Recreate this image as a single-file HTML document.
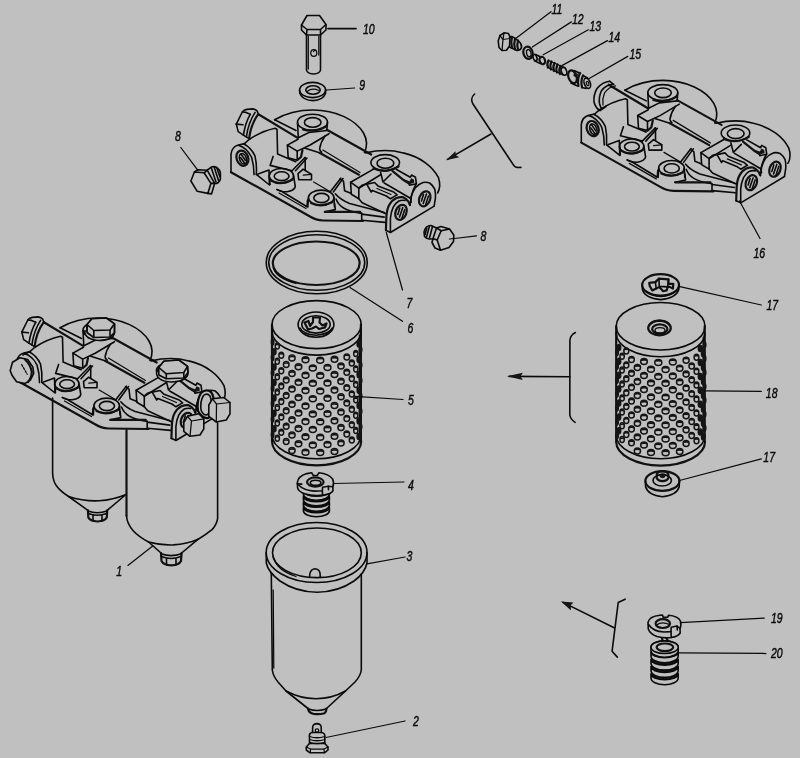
<!DOCTYPE html>
<html><head><meta charset="utf-8"><title>Filter assembly exploded view</title>
<style>
html,body{margin:0;padding:0;background:#c0c0c0;}
body{width:800px;height:758px;overflow:hidden;font-family:"Liberation Sans",sans-serif;}
svg{display:block}
.l{fill:none;stroke:#0a0a0a;stroke-width:1.6;stroke-linecap:round;stroke-linejoin:round}
.t{fill:none;stroke:#0a0a0a;stroke-width:1.25;stroke-linecap:round;stroke-linejoin:round}
.k{fill:none;stroke:#111;stroke-width:2.2;stroke-linecap:round;stroke-linejoin:round}
.f{fill:#c0c0c0;stroke:#0a0a0a;stroke-width:1.6;stroke-linejoin:round}
.b{fill:#151515;stroke:none}
text{font-family:"Liberation Sans",sans-serif;font-style:italic;font-size:14.2px;fill:#0a0a0a;stroke:#0a0a0a;stroke-width:0.45}
</style></head><body>
<svg width="800" height="758" viewBox="0 0 800 758">
<rect width="800" height="758" fill="#c0c0c0"/>
<!-- 10_bolt.svg -->
<g class="l">
<!-- bolt 10 -->
<path d="M301.5,25 L307,15.5 L319.5,15.5 L326,24.5 L326,30 L320.5,35 L306.5,35 L301.5,30 Z"/>
<path d="M301.5,25 L307,29.5 L320.5,29.5 L326,24.5 M307,29.5 L306.5,35 M320.5,29.5 L320.5,35"/>
<path d="M306.5,35 L306.5,70 Q307,73.5 313.5,74 Q320,73.5 320.5,70 L320.5,35"/>
<path class="t" d="M308.3,36 L308.3,69 M318.8,36 L318.8,55"/>
<ellipse class="t" cx="313.8" cy="53" rx="3" ry="3.4"/>
<path class="t" d="M313.5,51.5 L315,50"/>
<!-- washer 9 -->
<ellipse cx="312.6" cy="90" rx="13" ry="7.6"/>
<path d="M299.6,90 L299.8,93.5 Q303,100.5 313,100.6 Q323,100.3 325.5,93.5 L325.6,90"/>
<ellipse cx="313" cy="90" rx="7.2" ry="4.2"/>
<path class="t" d="M307,91.5 Q312,87.5 319,90.5"/>
</g>
<g class="t">
<path d="M328,28.6 L356,28.6" style="stroke-width:1.8"/>
<path d="M326.5,90 L354.5,88"/>
</g>
<!-- 20_cover7.svg -->
<g id="cover7">
<g class="l" id="cbody">
<!-- tube top edge from plug to boss1 -->
<path class="k" d="M258.4,114.3 L297.2,137.6"/>
<!-- flange 1 arc -->
<path d="M274.6,119.8 L296,130.5"/>
<path d="M274.6,119.8 C286,113 300,110 313,110 C336,110 356,120 363.5,133 C367.5,140 367,147 364.5,152.5"/>
<!-- wall -->
<path d="M244.5,143.6 L249,139.5 Q262,131 275,128.3 L277,129.3 L277.6,154.1 L295.7,161.7"/>
<!-- left ear -->
<path d="M244.5,143.6 L238.5,145 Q232,146.5 231,154 L231,172.2"/>
<path d="M243.5,143.8 Q251,147.5 255,156 Q257,165 256.3,174.4"/>
<path d="M238.5,145.2 Q247,148 251.5,157 Q254,165 254,174.6"/>
<ellipse class="k" cx="242.4" cy="158.2" rx="5.8" ry="7.8" transform="rotate(-20 242.4 158.2)"/>
<ellipse cx="243" cy="158.8" rx="3.4" ry="5.4" transform="rotate(-20 243 158.8)"/>
<!-- pocket triangle -->
<path d="M256.3,174.4 L269.5,185 L269,170 L258,174"/>
<!-- outer bottom edge -->
<path class="k" d="M231,172.2 L310,216.5 Q316,220.3 323,220.5 L363,221"/>
<!-- boss 2 -->
<ellipse cx="281.4" cy="175.9" rx="12.2" ry="7.4"/>
<ellipse cx="281.6" cy="176.2" rx="7.4" ry="4.4"/>
<path d="M269.2,176.5 L270,184.5 M293.6,176 L295.3,186.5 Q294.5,190.5 287,191.8 Q280,192 276.9,189.5"/>
<path class="k" d="M271,180.5 Q280,186 292.5,179.5"/>
<!-- step line -->
<path d="M276.9,189.5 L281.5,191.3 L307,206.8 L307.5,200"/>
<path class="t" d="M279,193 L306,208.5"/>
<!-- small wall near boss 2 -->
<path d="M273.1,156.4 L270.1,165.4 L292,170.7"/>
<path d="M292,170.7 L305,157.5 M295.5,170.7 L307,158"/>
<!-- rib 1 -->
<path d="M287.4,145.1 L297.2,151.1 L297.2,160.2 L288.2,157.9 Z"/>
<path d="M287.4,145.1 L298,139.3 M297.2,151.1 L309.7,145.2 L329,133.7"/>
<path d="M305.2,157.6 L305.2,170"/>
<path d="M304.5,148 L319.5,152.8"/>
<path class="k" d="M297.2,160.2 L301,157 L302.5,150"/>
<!-- boss 1 -->
<ellipse cx="312.5" cy="122.2" rx="15" ry="8"/>
<ellipse cx="312.7" cy="122.4" rx="8.3" ry="4.8"/>
<path d="M297.5,122.5 L298.3,137.8 M327.5,122.5 L326.8,130.5"/>
<path class="k" d="M303,129.5 Q314,133 326,126.5"/>
<path d="M298.3,137.8 L309,132.5 L326.8,130.5"/>
<!-- small wedge -->
<path d="M298,173.7 L303.2,169.2 L311.5,174.4 L311.5,179.7 L298.7,179.7 Z"/>
<path class="t" d="M303.3,175.2 L311.5,174.4"/>
<!-- boss 3 -->
<ellipse cx="321.2" cy="197.7" rx="12.8" ry="7.6"/>
<ellipse cx="321.4" cy="198" rx="7.6" ry="4.6"/>
<path d="M308.4,198 L307.8,207 M334,198 L334.5,207"/>
<path class="k" d="M311,203 Q321,208 332.5,202"/>
<!-- lines from wedge to boss3 -->
<path class="t" d="M313.7,182 L330.3,191.7"/>
<path d="M330.3,191.7 L340.8,178.2 M333.3,192 L343,178.5"/>
<!-- tube 1 : upper cylinder -->
<path class="k" d="M326.8,129.7 L371.2,154.5"/>
<path d="M325.1,135.9 Q320.5,142.5 319.6,149 Q320,151.2 321.7,152.2"/>
<path class="t" d="M322.9,150 L360,172.5"/>
<path class="k" d="M319.5,152.8 L358.9,174.7"/>
<!-- flange 2 arc -->
<path d="M365.6,152.9 C378,150 392,149.8 403.2,152.9 C421,157 433,167 438.5,177.7 C440.5,184 440,189 437.6,193"/>
<!-- boss 4 -->
<ellipse cx="385.2" cy="162.6" rx="14.3" ry="8"/>
<ellipse cx="385.4" cy="163.2" rx="8.4" ry="5"/>
<path class="k" d="M373.5,168.5 Q386,174 398.5,166.5"/>
<path d="M380.6,172.4 L383,182 L391,174"/>
<!-- rib 2 -->
<path d="M350.6,182.2 L358.8,188.2 L358.8,198.7 L351.3,194.2 Z"/>
<path d="M350.6,182.2 L373.1,169.4 M358.8,188.2 L380.6,174.7"/>
<!-- arrow casting lower -->
<path d="M366.7,184.2 L374.6,182.5 L378,185.9 L393.7,192 L397.1,194.9 L390.4,198.8 L386.4,196 L372.4,190.4 L371.2,192 Z"/>
<path class="t" d="M377,188.5 L391,194.5"/>
<!-- arrow casting upper -->
<path class="k" d="M392.6,171.2 L403.9,180.3 L409.2,183.6"/>
<path d="M396.5,169.5 L410.3,177.3 L411.5,175 L415.5,177.3 L416.4,183.8 L409.5,185.3 L409.2,183.6"/>
<path class="b" d="M403.5,179 L409.5,181.2 L411.2,178.2 L414,179.5 L414.3,182.8 L409.3,184.2 Z"/>
<path d="M384.2,183 L411.2,198.8"/>
<path d="M416.2,183.6 Q412.5,190.5 410.6,198.2 L411.2,202.2"/>
<!-- end plate -->
<path class="k" d="M385.9,230.3 L386.4,216.2 Q387,209 389.2,205 Q392,200 396,198.2 Q399.5,196.8 402.7,197.1 Q406,198.5 408.4,201.6 L410,205"/>
<path d="M390.4,232 L390.4,218.5 Q391,212 393.2,207.2 Q395.5,203 398.8,201 Q402,199.8 405,200.5"/>
<path d="M410,205 L411.2,197.1 Q412.5,192 415.1,188.1 Q418.5,184 423,182.5 Q426.5,181.8 429.7,183 Q433,185.5 434.8,189.2 Q435.8,193.5 435.4,198.2 L434.2,205.8"/>
<path d="M385.9,230.3 L390.4,232.5 L434.2,206.1"/>
<ellipse class="k" cx="401" cy="212.3" rx="5.4" ry="7.8" transform="rotate(22 401 212.3)"/>
<ellipse class="k" cx="424.7" cy="198.8" rx="5.4" ry="7.8" transform="rotate(22 424.7 198.8)"/>
<path d="M399.8,208 L397.8,214.5 M402.8,207.5 L399.5,217 M404.8,209.5 L402,218 M423.5,194.5 L421.5,201 M426.5,194 L423.2,203.5 M428.5,196 L425.7,204.5"/>
<!-- lines between rib2 and tube ends -->
<path d="M358.8,198.7 L362.2,202.7 L385.3,213.4"/>
<path d="M358.8,188.2 Q362,184 366.7,184.2"/>
<!-- lower flange curves left of rib 2 -->
<path d="M335.3,193.8 Q340,199.5 349.6,203.6 L384.2,212.6"/>
<path d="M336,199 Q338,204.5 343.6,208 Q350,211.8 361.7,213.4"/>
<path d="M334.6,203.6 L335.3,209.6 L324.8,211.9"/>
<path class="k" d="M324.8,211.9 L360.2,211.9"/><path d="M361.7,213.4 L361.7,220.2 M361.7,214.1 L384.2,217.1"/>
<path d="M361.7,220.2 L385,222.4"/>
<path d="M340.1,179 L343.5,181.2 L344.6,190.8 L351.4,193.6"/>
<path d="M241,154 L245.5,160.5 M240.5,157.5 L244.5,163"/>
</g>
<g class="l" id="cplug">
<!-- plug head top-left -->
<path d="M236.3,124.1 L242.3,112 Q244,110 246.8,109.4 L252.8,108.9 Q256,109.5 257.3,111.3 L258.5,114.7"/>
<path d="M236.3,124.1 L238.2,131.6 L243.8,135.3 L249.8,139.1"/>
<path d="M242.3,112 L246.1,112.4 L250.2,114.3 M236.3,124.1 L243,124.8"/>
<path d="M250.2,114.3 Q245.3,122.6 243.4,135.3"/>
<path d="M255.1,112.4 Q248.3,122.6 246.4,136.8"/>
<path class="k" d="M258.1,114.3 Q250.9,124.1 249.1,138.3"/>
</g>
</g>
<!-- 25_assembly1.svg -->
<g class="l">
<!-- left bowl -->
<path d="M52.6,398 L52.6,473 Q53,481 56.2,485.5 Q60,491 68.6,496.5 L87.9,510.3"/>
<path d="M68.6,496.5 Q84,501.5 99,500.8 Q113,500 126,494.5 L107.2,510.3"/>
<path class="k" d="M87.9,510.3 L88.3,517.5 Q90,521 97.5,521.5 Q105,521 106.8,517.5 L107.2,510.3"/>
<path d="M88.3,513.5 Q97,517 106.8,513.5 M93,515.5 L93,521 M102,515.5 L102,521 M88,511 Q97,514.5 107,511"/>
<!-- right bowl -->
<path class="k" d="M126.5,430 L126.5,515.8"/>
<path d="M126.5,515.8 Q127,524 133.4,531 Q139,537 148.6,542 L161,553"/>
<path d="M217.6,423 L217.6,518.6 Q216.5,525 212,529.6 Q206,534.5 198.2,539.2 L181.6,553"/>
<path d="M148.6,542 Q160,545.3 173.4,544.9 Q187,544 198.2,539.2"/>
<path class="k" d="M161,553 L161.5,561 Q163.5,565 171.3,565.4 Q179,565 181,561 L181.6,553"/>
<path d="M161.5,556.5 Q171,560.5 181,556.5 M166.5,558.7 L166.5,565 M176,558.7 L176,565 M161.2,553.8 Q171,557.5 181.4,553.8"/>
</g>
<g transform="translate(-214.5,208)"><g>
<g class="l">
<!-- tube top edge from plug to boss1 -->
<path class="k" d="M258.4,114.3 L297.2,137.6"/>
<!-- flange 1 arc -->
<path d="M274.6,119.8 L296,130.5"/>
<path d="M274.6,119.8 C286,113 300,110 313,110 C336,110 356,120 363.5,133 C367.5,140 367,147 364.5,152.5"/>
<!-- wall -->
<path d="M244.5,143.6 L249,139.5 Q262,131 275,128.3 L277,129.3 L277.6,154.1 L295.7,161.7"/>
<!-- left ear -->
<path d="M244.5,143.6 L238.5,145 Q232,146.5 231,154 L231,172.2"/>
<path d="M243.5,143.8 Q251,147.5 255,156 Q257,165 256.3,174.4"/>
<path d="M238.5,145.2 Q247,148 251.5,157 Q254,165 254,174.6"/>
<ellipse class="k" cx="242.4" cy="158.2" rx="5.8" ry="7.8" transform="rotate(-20 242.4 158.2)"/>
<ellipse cx="243" cy="158.8" rx="3.4" ry="5.4" transform="rotate(-20 243 158.8)"/>
<!-- pocket triangle -->
<path d="M256.3,174.4 L269.5,185 L269,170 L258,174"/>
<!-- outer bottom edge -->
<path class="k" d="M231,172.2 L310,216.5 Q316,220.3 323,220.5 L363,221"/>
<!-- boss 2 -->
<ellipse cx="281.4" cy="175.9" rx="12.2" ry="7.4"/>
<ellipse cx="281.6" cy="176.2" rx="7.4" ry="4.4"/>
<path d="M269.2,176.5 L270,184.5 M293.6,176 L295.3,186.5 Q294.5,190.5 287,191.8 Q280,192 276.9,189.5"/>
<path class="k" d="M271,180.5 Q280,186 292.5,179.5"/>
<!-- step line -->
<path d="M276.9,189.5 L281.5,191.3 L307,206.8 L307.5,200"/>
<path class="t" d="M279,193 L306,208.5"/>
<!-- small wall near boss 2 -->
<path d="M273.1,156.4 L270.1,165.4 L292,170.7"/>
<path d="M292,170.7 L305,157.5 M295.5,170.7 L307,158"/>
<!-- rib 1 -->
<path d="M287.4,145.1 L297.2,151.1 L297.2,160.2 L288.2,157.9 Z"/>
<path d="M287.4,145.1 L298,139.3 M297.2,151.1 L309.7,145.2 L329,133.7"/>
<path d="M305.2,157.6 L305.2,170"/>
<path d="M304.5,148 L319.5,152.8"/>
<path class="k" d="M297.2,160.2 L301,157 L302.5,150"/>
<!-- boss 1 -->
<ellipse cx="312.5" cy="122.2" rx="15" ry="8"/>
<ellipse cx="312.7" cy="122.4" rx="8.3" ry="4.8"/>
<path d="M297.5,122.5 L298.3,137.8 M327.5,122.5 L326.8,130.5"/>
<path class="k" d="M303,129.5 Q314,133 326,126.5"/>
<path d="M298.3,137.8 L309,132.5 L326.8,130.5"/>
<!-- small wedge -->
<path d="M298,173.7 L303.2,169.2 L311.5,174.4 L311.5,179.7 L298.7,179.7 Z"/>
<path class="t" d="M303.3,175.2 L311.5,174.4"/>
<!-- boss 3 -->
<ellipse cx="321.2" cy="197.7" rx="12.8" ry="7.6"/>
<ellipse cx="321.4" cy="198" rx="7.6" ry="4.6"/>
<path d="M308.4,198 L307.8,207 M334,198 L334.5,207"/>
<path class="k" d="M311,203 Q321,208 332.5,202"/>
<!-- lines from wedge to boss3 -->
<path class="t" d="M313.7,182 L330.3,191.7"/>
<path d="M330.3,191.7 L340.8,178.2 M333.3,192 L343,178.5"/>
<!-- tube 1 : upper cylinder -->
<path class="k" d="M326.8,129.7 L371.2,154.5"/>
<path d="M325.1,135.9 Q320.5,142.5 319.6,149 Q320,151.2 321.7,152.2"/>
<path class="t" d="M322.9,150 L360,172.5"/>
<path class="k" d="M319.5,152.8 L358.9,174.7"/>
<!-- flange 2 arc -->
<path d="M365.6,152.9 C378,150 392,149.8 403.2,152.9 C421,157 433,167 438.5,177.7 C440.5,184 440,189 437.6,193"/>
<!-- boss 4 -->
<ellipse cx="385.2" cy="162.6" rx="14.3" ry="8"/>
<ellipse cx="385.4" cy="163.2" rx="8.4" ry="5"/>
<path class="k" d="M373.5,168.5 Q386,174 398.5,166.5"/>
<path d="M380.6,172.4 L383,182 L391,174"/>
<!-- rib 2 -->
<path d="M350.6,182.2 L358.8,188.2 L358.8,198.7 L351.3,194.2 Z"/>
<path d="M350.6,182.2 L373.1,169.4 M358.8,188.2 L380.6,174.7"/>
<!-- arrow casting lower -->
<path d="M366.7,184.2 L374.6,182.5 L378,185.9 L393.7,192 L397.1,194.9 L390.4,198.8 L386.4,196 L372.4,190.4 L371.2,192 Z"/>
<path class="t" d="M377,188.5 L391,194.5"/>
<!-- arrow casting upper -->
<path class="k" d="M392.6,171.2 L403.9,180.3 L409.2,183.6"/>
<path d="M396.5,169.5 L410.3,177.3 L411.5,175 L415.5,177.3 L416.4,183.8 L409.5,185.3 L409.2,183.6"/>
<path class="b" d="M403.5,179 L409.5,181.2 L411.2,178.2 L414,179.5 L414.3,182.8 L409.3,184.2 Z"/>
<path d="M384.2,183 L411.2,198.8"/>
<path d="M416.2,183.6 Q412.5,190.5 410.6,198.2 L411.2,202.2"/>
<!-- end plate -->
<path class="k" d="M385.9,230.3 L386.4,216.2 Q387,209 389.2,205 Q392,200 396,198.2 Q399.5,196.8 402.7,197.1 Q406,198.5 408.4,201.6 L410,205"/>
<path d="M390.4,232 L390.4,218.5 Q391,212 393.2,207.2 Q395.5,203 398.8,201 Q402,199.8 405,200.5"/>
<path d="M410,205 L411.2,197.1 Q412.5,192 415.1,188.1 Q418.5,184 423,182.5 Q426.5,181.8 429.7,183 Q433,185.5 434.8,189.2 Q435.8,193.5 435.4,198.2 L434.2,205.8"/>
<path d="M385.9,230.3 L390.4,232.5 L434.2,206.1"/>
<ellipse class="k" cx="401" cy="212.3" rx="5.4" ry="7.8" transform="rotate(22 401 212.3)"/>
<ellipse class="k" cx="424.7" cy="198.8" rx="5.4" ry="7.8" transform="rotate(22 424.7 198.8)"/>
<path d="M399.8,208 L397.8,214.5 M402.8,207.5 L399.5,217 M404.8,209.5 L402,218 M423.5,194.5 L421.5,201 M426.5,194 L423.2,203.5 M428.5,196 L425.7,204.5"/>
<!-- lines between rib2 and tube ends -->
<path d="M358.8,198.7 L362.2,202.7 L385.3,213.4"/>
<path d="M358.8,188.2 Q362,184 366.7,184.2"/>
<!-- lower flange curves left of rib 2 -->
<path d="M335.3,193.8 Q340,199.5 349.6,203.6 L384.2,212.6"/>
<path d="M336,199 Q338,204.5 343.6,208 Q350,211.8 361.7,213.4"/>
<path d="M334.6,203.6 L335.3,209.6 L324.8,211.9"/>
<path class="k" d="M324.8,211.9 L360.2,211.9"/><path d="M361.7,213.4 L361.7,220.2 M361.7,214.1 L384.2,217.1"/>
<path d="M361.7,220.2 L385,222.4"/>
<path d="M340.1,179 L343.5,181.2 L344.6,190.8 L351.4,193.6"/>
<path d="M241,154 L245.5,160.5 M240.5,157.5 L244.5,163"/>
</g>
<g class="l">
<!-- plug head top-left -->
<path d="M236.3,124.1 L242.3,112 Q244,110 246.8,109.4 L252.8,108.9 Q256,109.5 257.3,111.3 L258.5,114.7"/>
<path d="M236.3,124.1 L238.2,131.6 L243.8,135.3 L249.8,139.1"/>
<path d="M242.3,112 L246.1,112.4 L250.2,114.3 M236.3,124.1 L243,124.8"/>
<path d="M250.2,114.3 Q245.3,122.6 243.4,135.3"/>
<path d="M255.1,112.4 Q248.3,122.6 246.4,136.8"/>
<path class="k" d="M258.1,114.3 Q250.9,124.1 249.1,138.3"/>
</g>
</g></g>
<g class="f">
<!-- bolt on boss 1 -->
<path d="M84.5,331 Q85,339.5 99,340.5 Q113,340 114.5,333 L114.5,323.8 L106.3,318 L92,318.8 L87,324.5 L87,331 Z"/>
<path d="M87,324.5 L92,318.8 L106.3,318 L114.5,323.8 L110,330 L93.8,330.5 Z"/>
<path d="M87,324.5 L87,332.5 L93.8,337.5 L110,337 L114.5,332.5 L114.5,323.8" fill="none"/>
<path d="M93.8,330.5 L93.8,337.5 M110,330 L110,337" fill="none"/>
<!-- bolt on boss 4 -->
<path d="M156.5,373 Q157,381 171,382 Q186,381.5 188,374 L187.5,366.3 L178.8,360 L163.8,361.3 L158.8,367.5 Z"/>
<path d="M158.8,367.5 L163.8,361.3 L178.8,360 L187.5,366.3 L183.8,372.5 L166.3,373.8 Z"/>
<path d="M158.8,367.5 L158.8,375 L166.3,378.8 L183.8,378 L188,372.5 L187.5,366.3" fill="none"/>
<path d="M166.3,373.8 L166.3,378.8 M183.8,372.5 L183.8,378" fill="none"/>
<!-- ear plug -->
<ellipse cx="28.2" cy="366.2" rx="7.3" ry="9.4" transform="rotate(-20 28.2 366.2)" stroke="none"/>
<path d="M10.2,370.6 L12.5,362.3 L19.9,357.7 L27.7,359.5 L32.8,366.9 L33.7,373.4 L30.5,379.9 L24.9,383.6 L16.6,381.7 L12,375.2 Z"/>
<path class="k" d="M25,359.5 Q30.5,364.5 31.8,372 Q31.5,378 28,382" fill="none"/>
<path class="t" d="M21.7,364.6 L27.2,374.3" fill="none" stroke-dasharray="2 1.5"/>
<path d="M22.2,355.4 L30,351.6" fill="none"/>
<!-- right-end washers + plugs -->
<path style="stroke-width:2.2" d="M198,411 Q196.5,400 201,393 Q206,388.5 211,392 Q215,397 214,408 Q212.5,416 208,418 Q202,418.5 198,411 Z"/>
<path d="M201,410 Q200,401 203.5,395.5 Q207,392.5 210,396 Q212,401 211,408 Q209.5,414 206.5,415 Q203,415 201,410 Z" fill="none"/>
<path d="M208.8,405 L212.5,398.8 L223.8,397.5 L230,402.5 L230,413.8 L226.3,420 L216.3,422 L208.8,416.3 Z"/>
<path class="t" d="M212.5,398.8 L216.5,404 L216.3,422 M216.5,404 L230,402.5" fill="none"/>
<path d="M183.8,422.5 L187.5,416.3 L198.8,413.8 L203.8,418.8 L203.8,428.8 L200,435 L190,436.3 L183.8,431.3 Z"/>
<path class="t" d="M187.5,416.3 L191.5,421 L190,436.3 M191.5,421 L203.8,418.8" fill="none"/>
</g>
<g class="t"><path d="M127.9,565.4 L152.7,546"/></g>
<!-- 26_cover16.svg -->
<g transform="translate(350.3,-29.6)"><g class="l">
<!-- tube top edge from plug to boss1 -->
<path class="k" d="M258.4,114.3 L297.2,137.6"/>
<!-- flange 1 arc -->
<path d="M274.6,119.8 L296,130.5"/>
<path d="M274.6,119.8 C286,113 300,110 313,110 C336,110 356,120 363.5,133 C367.5,140 367,147 364.5,152.5"/>
<!-- wall -->
<path d="M244.5,143.6 L249,139.5 Q262,131 275,128.3 L277,129.3 L277.6,154.1 L295.7,161.7"/>
<!-- left ear -->
<path d="M244.5,143.6 L238.5,145 Q232,146.5 231,154 L231,172.2"/>
<path d="M243.5,143.8 Q251,147.5 255,156 Q257,165 256.3,174.4"/>
<path d="M238.5,145.2 Q247,148 251.5,157 Q254,165 254,174.6"/>
<ellipse class="k" cx="242.4" cy="158.2" rx="5.8" ry="7.8" transform="rotate(-20 242.4 158.2)"/>
<ellipse cx="243" cy="158.8" rx="3.4" ry="5.4" transform="rotate(-20 243 158.8)"/>
<!-- pocket triangle -->
<path d="M256.3,174.4 L269.5,185 L269,170 L258,174"/>
<!-- outer bottom edge -->
<path class="k" d="M231,172.2 L310,216.5 Q316,220.3 323,220.5 L363,221"/>
<!-- boss 2 -->
<ellipse cx="281.4" cy="175.9" rx="12.2" ry="7.4"/>
<ellipse cx="281.6" cy="176.2" rx="7.4" ry="4.4"/>
<path d="M269.2,176.5 L270,184.5 M293.6,176 L295.3,186.5 Q294.5,190.5 287,191.8 Q280,192 276.9,189.5"/>
<path class="k" d="M271,180.5 Q280,186 292.5,179.5"/>
<!-- step line -->
<path d="M276.9,189.5 L281.5,191.3 L307,206.8 L307.5,200"/>
<path class="t" d="M279,193 L306,208.5"/>
<!-- small wall near boss 2 -->
<path d="M273.1,156.4 L270.1,165.4 L292,170.7"/>
<path d="M292,170.7 L305,157.5 M295.5,170.7 L307,158"/>
<!-- rib 1 -->
<path d="M287.4,145.1 L297.2,151.1 L297.2,160.2 L288.2,157.9 Z"/>
<path d="M287.4,145.1 L298,139.3 M297.2,151.1 L309.7,145.2 L329,133.7"/>
<path d="M305.2,157.6 L305.2,170"/>
<path d="M304.5,148 L319.5,152.8"/>
<path class="k" d="M297.2,160.2 L301,157 L302.5,150"/>
<!-- boss 1 -->
<ellipse cx="312.5" cy="122.2" rx="15" ry="8"/>
<ellipse cx="312.7" cy="122.4" rx="8.3" ry="4.8"/>
<path d="M297.5,122.5 L298.3,137.8 M327.5,122.5 L326.8,130.5"/>
<path class="k" d="M303,129.5 Q314,133 326,126.5"/>
<path d="M298.3,137.8 L309,132.5 L326.8,130.5"/>
<!-- small wedge -->
<path d="M298,173.7 L303.2,169.2 L311.5,174.4 L311.5,179.7 L298.7,179.7 Z"/>
<path class="t" d="M303.3,175.2 L311.5,174.4"/>
<!-- boss 3 -->
<ellipse cx="321.2" cy="197.7" rx="12.8" ry="7.6"/>
<ellipse cx="321.4" cy="198" rx="7.6" ry="4.6"/>
<path d="M308.4,198 L307.8,207 M334,198 L334.5,207"/>
<path class="k" d="M311,203 Q321,208 332.5,202"/>
<!-- lines from wedge to boss3 -->
<path class="t" d="M313.7,182 L330.3,191.7"/>
<path d="M330.3,191.7 L340.8,178.2 M333.3,192 L343,178.5"/>
<!-- tube 1 : upper cylinder -->
<path class="k" d="M326.8,129.7 L371.2,154.5"/>
<path d="M325.1,135.9 Q320.5,142.5 319.6,149 Q320,151.2 321.7,152.2"/>
<path class="t" d="M322.9,150 L360,172.5"/>
<path class="k" d="M319.5,152.8 L358.9,174.7"/>
<!-- flange 2 arc -->
<path d="M365.6,152.9 C378,150 392,149.8 403.2,152.9 C421,157 433,167 438.5,177.7 C440.5,184 440,189 437.6,193"/>
<!-- boss 4 -->
<ellipse cx="385.2" cy="162.6" rx="14.3" ry="8"/>
<ellipse cx="385.4" cy="163.2" rx="8.4" ry="5"/>
<path class="k" d="M373.5,168.5 Q386,174 398.5,166.5"/>
<path d="M380.6,172.4 L383,182 L391,174"/>
<!-- rib 2 -->
<path d="M350.6,182.2 L358.8,188.2 L358.8,198.7 L351.3,194.2 Z"/>
<path d="M350.6,182.2 L373.1,169.4 M358.8,188.2 L380.6,174.7"/>
<!-- arrow casting lower -->
<path d="M366.7,184.2 L374.6,182.5 L378,185.9 L393.7,192 L397.1,194.9 L390.4,198.8 L386.4,196 L372.4,190.4 L371.2,192 Z"/>
<path class="t" d="M377,188.5 L391,194.5"/>
<!-- arrow casting upper -->
<path class="k" d="M392.6,171.2 L403.9,180.3 L409.2,183.6"/>
<path d="M396.5,169.5 L410.3,177.3 L411.5,175 L415.5,177.3 L416.4,183.8 L409.5,185.3 L409.2,183.6"/>
<path class="b" d="M403.5,179 L409.5,181.2 L411.2,178.2 L414,179.5 L414.3,182.8 L409.3,184.2 Z"/>
<path d="M384.2,183 L411.2,198.8"/>
<path d="M416.2,183.6 Q412.5,190.5 410.6,198.2 L411.2,202.2"/>
<!-- end plate -->
<path class="k" d="M385.9,230.3 L386.4,216.2 Q387,209 389.2,205 Q392,200 396,198.2 Q399.5,196.8 402.7,197.1 Q406,198.5 408.4,201.6 L410,205"/>
<path d="M390.4,232 L390.4,218.5 Q391,212 393.2,207.2 Q395.5,203 398.8,201 Q402,199.8 405,200.5"/>
<path d="M410,205 L411.2,197.1 Q412.5,192 415.1,188.1 Q418.5,184 423,182.5 Q426.5,181.8 429.7,183 Q433,185.5 434.8,189.2 Q435.8,193.5 435.4,198.2 L434.2,205.8"/>
<path d="M385.9,230.3 L390.4,232.5 L434.2,206.1"/>
<ellipse class="k" cx="401" cy="212.3" rx="5.4" ry="7.8" transform="rotate(22 401 212.3)"/>
<ellipse class="k" cx="424.7" cy="198.8" rx="5.4" ry="7.8" transform="rotate(22 424.7 198.8)"/>
<path d="M399.8,208 L397.8,214.5 M402.8,207.5 L399.5,217 M404.8,209.5 L402,218 M423.5,194.5 L421.5,201 M426.5,194 L423.2,203.5 M428.5,196 L425.7,204.5"/>
<!-- lines between rib2 and tube ends -->
<path d="M358.8,198.7 L362.2,202.7 L385.3,213.4"/>
<path d="M358.8,188.2 Q362,184 366.7,184.2"/>
<!-- lower flange curves left of rib 2 -->
<path d="M335.3,193.8 Q340,199.5 349.6,203.6 L384.2,212.6"/>
<path d="M336,199 Q338,204.5 343.6,208 Q350,211.8 361.7,213.4"/>
<path d="M334.6,203.6 L335.3,209.6 L324.8,211.9"/>
<path class="k" d="M324.8,211.9 L360.2,211.9"/><path d="M361.7,213.4 L361.7,220.2 M361.7,214.1 L384.2,217.1"/>
<path d="M361.7,220.2 L385,222.4"/>
<path d="M340.1,179 L343.5,181.2 L344.6,190.8 L351.4,193.6"/>
<path d="M241,154 L245.5,160.5 M240.5,157.5 L244.5,163"/>
</g></g>
<g class="l">
<!-- open tube end -->
<path d="M609.8,81.3 Q602.5,82 597,88.5 Q593.3,95 594,102 Q595.5,108 600,110.5"/>
<path d="M613.6,84.3 Q606,84.5 601.3,91 Q598.5,97.5 599.5,103.5 Q600,106 601.5,108.5"/>
<path class="t" d="M615.5,85.8 Q609,86.5 604.5,93 Q602,99 603,105"/>
<path d="M609.8,81.3 L613.6,84.3"/>
<path d="M600,110.5 L606,106.5"/>
</g>
<g class="t"><path d="M739.5,201 L760,238.5"/></g>
<!-- 30_plugs8.svg -->
<g class="l">
<!-- plug 8 left -->
<path d="M190.9,181 L194.4,172 L204.1,172.8 L210.9,183.4 L207.8,193.4 L197.2,191.3 Z"/>
<path d="M194.4,172 L198,169.8 L207.2,170.2 L204.1,172.8 M210.9,183.4 L214.6,183.4 L211.5,193.9 L207.8,193.4 M207.2,170.2 L214.6,183.4"/>
<path d="M207.2,170.2 L211.5,167 Q214,166 216.7,167.5 Q220,170 220.4,172.8 L220.4,179.1 Q219.5,182.5 216.7,183.4 L214.6,183.4"/>
<path d="M211.5,168.5 L216,182 M214.3,167.5 L218.5,180.5 M217,168.5 L220,177"/>
<!-- plug 8 right -->
<path d="M437.2,240 L441.2,230.8 L449.5,229 L453.8,235 L453.5,241.5 L449,247.5 L440.5,250.2 Z"/>
<path d="M441.2,230.8 L436.5,228 L433,238.5 L437.2,240 M433,238.5 L432,242.5 L435,248 L440.5,250.2 M436.5,228 L441,226.5 L449.5,229"/>
<path d="M436.5,228 L431,225.5 Q428.5,225.3 426.5,227 Q424.3,229.5 424,232 L424.5,236.5 Q426,238.5 429,239 L433,239"/>
<path d="M432.5,226.5 L429.5,238 M429.5,226 L426.5,237 M426.8,228 L425,234.5"/>
<path class="t" d="M449.5,239 L453.5,238.5"/>
</g>
<g class="t">
<path d="M180.8,147.5 L197.7,170.2"/>
<path d="M454.5,238.5 L476.5,235.8"/>
</g>
<!-- 40_ring6.svg -->
<g class="l">
<ellipse cx="316.75" cy="262.5" rx="50.5" ry="31.2"/>
<ellipse cx="316.75" cy="262.5" rx="48" ry="27.75"/>
<ellipse class="k" cx="316.2" cy="263.25" rx="43.4" ry="21.75"/>
<path class="t" d="M273.5,268 Q276,278 296,283.5"/>
</g>
<g class="t">
<path d="M386.3,232.5 L402.5,290"/>
<path d="M350,287.5 L402.5,321.3"/>
</g>
<!-- 50_filter5.svg -->
<g class="l">
<path class="k" d="M272.0,324.6 L272.0,441.3 M360.90000000000003,324.6 L360.90000000000003,441.3"/>
<path class="t" d="M359.40000000000003,335.1 L359.40000000000003,436.8"/>
<ellipse cx="316.6" cy="324.6" rx="44.6" ry="24"/>
<path d="M272.0,331.1 A44.6,24 0 0 0 361.20000000000005,331.1"/>
<ellipse cx="316" cy="324.6" rx="17.9" ry="12.6"/>
<ellipse cx="316" cy="324.4" rx="14.2" ry="8.7"/>
<path d="M300,328 Q303,334.5 316,335.2 Q329,334.5 332.5,328"/>
<path class="k" d="M304.5,322.5 L308.5,321 L310,326 L313,322 L313,317.5 L320,317.5 L319.5,322.5 L322.5,325.5 L326.5,323.5 L325,327.5 L319,329 L316,326.5 L312,328.5 L308,329.5 Z"/>
<path d="M272.0,434.8 A44.6,24 0 0 0 361.20000000000005,434.8"/>
<path class="k" d="M272.0,441.3 A44.6,24 0 0 0 361.20000000000005,441.3"/>
</g>
<g fill="#c0c0c0" stroke="#151515" stroke-width="1.5">
<ellipse cx="272.6" cy="342.0" rx="1.2" ry="3.0"/>
<ellipse cx="277.3" cy="345.9" rx="2.1" ry="3.0"/>
<ellipse cx="358.8" cy="344.0" rx="1.7" ry="3.0"/>
<ellipse cx="274.3" cy="351.7" rx="1.7" ry="3.0"/>
<ellipse cx="281.3" cy="355.3" rx="2.4" ry="3.0"/>
<ellipse cx="292.0" cy="358.1" rx="3.1" ry="3.0"/>
<ellipse cx="305.5" cy="359.8" rx="3.4" ry="3.0"/>
<ellipse cx="320.2" cy="360.2" rx="3.5" ry="3.0"/>
<ellipse cx="334.5" cy="359.2" rx="3.3" ry="3.0"/>
<ellipse cx="346.8" cy="356.9" rx="2.8" ry="3.0"/>
<ellipse cx="355.8" cy="353.6" rx="2.1" ry="3.0"/>
<ellipse cx="360.6" cy="349.7" rx="1.2" ry="3.0"/>
<ellipse cx="272.6" cy="357.4" rx="1.2" ry="3.0"/>
<ellipse cx="277.3" cy="361.3" rx="2.1" ry="3.0"/>
<ellipse cx="286.2" cy="364.6" rx="2.8" ry="3.0"/>
<ellipse cx="298.5" cy="366.8" rx="3.3" ry="3.0"/>
<ellipse cx="312.8" cy="367.9" rx="3.5" ry="3.0"/>
<ellipse cx="327.5" cy="367.5" rx="3.4" ry="3.0"/>
<ellipse cx="341.0" cy="365.9" rx="3.1" ry="3.0"/>
<ellipse cx="351.8" cy="363.1" rx="2.5" ry="3.0"/>
<ellipse cx="358.8" cy="359.4" rx="1.7" ry="3.0"/>
<ellipse cx="274.3" cy="367.1" rx="1.7" ry="3.0"/>
<ellipse cx="281.3" cy="370.7" rx="2.4" ry="3.0"/>
<ellipse cx="292.0" cy="373.5" rx="3.1" ry="3.0"/>
<ellipse cx="305.5" cy="375.2" rx="3.4" ry="3.0"/>
<ellipse cx="320.2" cy="375.6" rx="3.5" ry="3.0"/>
<ellipse cx="334.5" cy="374.6" rx="3.3" ry="3.0"/>
<ellipse cx="346.8" cy="372.3" rx="2.8" ry="3.0"/>
<ellipse cx="355.8" cy="369.0" rx="2.1" ry="3.0"/>
<ellipse cx="360.6" cy="365.1" rx="1.2" ry="3.0"/>
<ellipse cx="272.6" cy="372.8" rx="1.2" ry="3.0"/>
<ellipse cx="277.3" cy="376.7" rx="2.1" ry="3.0"/>
<ellipse cx="286.2" cy="380.0" rx="2.8" ry="3.0"/>
<ellipse cx="298.5" cy="382.2" rx="3.3" ry="3.0"/>
<ellipse cx="312.8" cy="383.3" rx="3.5" ry="3.0"/>
<ellipse cx="327.5" cy="382.9" rx="3.4" ry="3.0"/>
<ellipse cx="341.0" cy="381.3" rx="3.1" ry="3.0"/>
<ellipse cx="351.8" cy="378.5" rx="2.5" ry="3.0"/>
<ellipse cx="358.8" cy="374.8" rx="1.7" ry="3.0"/>
<ellipse cx="274.3" cy="382.5" rx="1.7" ry="3.0"/>
<ellipse cx="281.3" cy="386.1" rx="2.4" ry="3.0"/>
<ellipse cx="292.0" cy="388.9" rx="3.1" ry="3.0"/>
<ellipse cx="305.5" cy="390.6" rx="3.4" ry="3.0"/>
<ellipse cx="320.2" cy="391.0" rx="3.5" ry="3.0"/>
<ellipse cx="334.5" cy="390.0" rx="3.3" ry="3.0"/>
<ellipse cx="346.8" cy="387.7" rx="2.8" ry="3.0"/>
<ellipse cx="355.8" cy="384.4" rx="2.1" ry="3.0"/>
<ellipse cx="360.6" cy="380.5" rx="1.2" ry="3.0"/>
<ellipse cx="272.6" cy="388.2" rx="1.2" ry="3.0"/>
<ellipse cx="277.3" cy="392.1" rx="2.1" ry="3.0"/>
<ellipse cx="286.2" cy="395.4" rx="2.8" ry="3.0"/>
<ellipse cx="298.5" cy="397.6" rx="3.3" ry="3.0"/>
<ellipse cx="312.8" cy="398.7" rx="3.5" ry="3.0"/>
<ellipse cx="327.5" cy="398.3" rx="3.4" ry="3.0"/>
<ellipse cx="341.0" cy="396.7" rx="3.1" ry="3.0"/>
<ellipse cx="351.8" cy="393.9" rx="2.5" ry="3.0"/>
<ellipse cx="358.8" cy="390.2" rx="1.7" ry="3.0"/>
<ellipse cx="274.3" cy="397.9" rx="1.7" ry="3.0"/>
<ellipse cx="281.3" cy="401.5" rx="2.4" ry="3.0"/>
<ellipse cx="292.0" cy="404.3" rx="3.1" ry="3.0"/>
<ellipse cx="305.5" cy="406.0" rx="3.4" ry="3.0"/>
<ellipse cx="320.2" cy="406.4" rx="3.5" ry="3.0"/>
<ellipse cx="334.5" cy="405.4" rx="3.3" ry="3.0"/>
<ellipse cx="346.8" cy="403.1" rx="2.8" ry="3.0"/>
<ellipse cx="355.8" cy="399.8" rx="2.1" ry="3.0"/>
<ellipse cx="360.6" cy="395.9" rx="1.2" ry="3.0"/>
<ellipse cx="272.6" cy="403.6" rx="1.2" ry="3.0"/>
<ellipse cx="277.3" cy="407.5" rx="2.1" ry="3.0"/>
<ellipse cx="286.2" cy="410.8" rx="2.8" ry="3.0"/>
<ellipse cx="298.5" cy="413.0" rx="3.3" ry="3.0"/>
<ellipse cx="312.8" cy="414.1" rx="3.5" ry="3.0"/>
<ellipse cx="327.5" cy="413.7" rx="3.4" ry="3.0"/>
<ellipse cx="341.0" cy="412.1" rx="3.1" ry="3.0"/>
<ellipse cx="351.8" cy="409.3" rx="2.5" ry="3.0"/>
<ellipse cx="358.8" cy="405.6" rx="1.7" ry="3.0"/>
<ellipse cx="274.3" cy="413.3" rx="1.7" ry="3.0"/>
<ellipse cx="281.3" cy="416.9" rx="2.4" ry="3.0"/>
<ellipse cx="292.0" cy="419.7" rx="3.1" ry="3.0"/>
<ellipse cx="305.5" cy="421.4" rx="3.4" ry="3.0"/>
<ellipse cx="320.2" cy="421.8" rx="3.5" ry="3.0"/>
<ellipse cx="334.5" cy="420.8" rx="3.3" ry="3.0"/>
<ellipse cx="346.8" cy="418.5" rx="2.8" ry="3.0"/>
<ellipse cx="355.8" cy="415.2" rx="2.1" ry="3.0"/>
<ellipse cx="360.6" cy="411.3" rx="1.2" ry="3.0"/>
<ellipse cx="272.6" cy="419.0" rx="1.2" ry="3.0"/>
<ellipse cx="277.3" cy="422.9" rx="2.1" ry="3.0"/>
<ellipse cx="286.2" cy="426.2" rx="2.8" ry="3.0"/>
<ellipse cx="298.5" cy="428.4" rx="3.3" ry="3.0"/>
<ellipse cx="312.8" cy="429.5" rx="3.5" ry="3.0"/>
<ellipse cx="327.5" cy="429.1" rx="3.4" ry="3.0"/>
<ellipse cx="341.0" cy="427.5" rx="3.1" ry="3.0"/>
<ellipse cx="351.8" cy="424.7" rx="2.5" ry="3.0"/>
<ellipse cx="358.8" cy="421.0" rx="1.7" ry="3.0"/>
<ellipse cx="274.3" cy="428.7" rx="1.7" ry="3.0"/>
<ellipse cx="281.3" cy="432.3" rx="2.4" ry="3.0"/>
<ellipse cx="292.0" cy="435.1" rx="3.1" ry="3.0"/>
<ellipse cx="305.5" cy="436.8" rx="3.4" ry="3.0"/>
<ellipse cx="320.2" cy="437.2" rx="3.5" ry="3.0"/>
<ellipse cx="334.5" cy="436.2" rx="3.3" ry="3.0"/>
<ellipse cx="346.8" cy="433.9" rx="2.8" ry="3.0"/>
<ellipse cx="355.8" cy="430.6" rx="2.1" ry="3.0"/>
<ellipse cx="360.6" cy="426.7" rx="1.2" ry="3.0"/>
<ellipse cx="272.6" cy="434.4" rx="1.2" ry="3.0"/>
<ellipse cx="277.3" cy="438.3" rx="2.1" ry="3.0"/>
<ellipse cx="286.2" cy="441.6" rx="2.8" ry="3.0"/>
<ellipse cx="298.5" cy="443.8" rx="3.3" ry="3.0"/>
<ellipse cx="312.8" cy="444.9" rx="3.5" ry="3.0"/>
<ellipse cx="327.5" cy="444.5" rx="3.4" ry="3.0"/>
<ellipse cx="341.0" cy="442.9" rx="3.1" ry="3.0"/>
<ellipse cx="351.8" cy="440.1" rx="2.5" ry="3.0"/>
<ellipse cx="358.8" cy="436.4" rx="1.7" ry="3.0"/>
<ellipse cx="292.0" cy="450.5" rx="3.1" ry="3.0"/>
<ellipse cx="305.5" cy="452.2" rx="3.4" ry="3.0"/>
<ellipse cx="320.2" cy="452.6" rx="3.5" ry="3.0"/>
<ellipse cx="334.5" cy="451.6" rx="3.3" ry="3.0"/>
</g>
<g class="b">
<ellipse cx="272.6" cy="342.0" rx="1.2" ry="3.0"/>
<path d="M275.2,345.9 A2.1,3.0 0 0 1 279.3,345.9 A2.1,0.9 0 0 0 275.2,345.9 Z"/>
<ellipse cx="358.8" cy="344.0" rx="1.7" ry="3.0"/>
<ellipse cx="274.3" cy="351.7" rx="1.7" ry="3.0"/>
<path d="M278.8,355.3 A2.4,3.0 0 0 1 283.7,355.3 A2.4,0.9 0 0 0 278.8,355.3 Z"/>
<path d="M289.0,358.1 A3.1,3.0 0 0 1 295.1,358.1 A3.1,0.9 0 0 0 289.0,358.1 Z"/>
<path d="M302.1,359.8 A3.4,3.0 0 0 1 308.9,359.8 A3.4,0.9 0 0 0 302.1,359.8 Z"/>
<path d="M316.7,360.2 A3.5,3.0 0 0 1 323.7,360.2 A3.5,0.9 0 0 0 316.7,360.2 Z"/>
<path d="M331.2,359.2 A3.3,3.0 0 0 1 337.7,359.2 A3.3,0.9 0 0 0 331.2,359.2 Z"/>
<path d="M344.0,356.9 A2.8,3.0 0 0 1 349.6,356.9 A2.8,0.9 0 0 0 344.0,356.9 Z"/>
<path d="M353.7,353.6 A2.1,3.0 0 0 1 357.9,353.6 A2.1,0.9 0 0 0 353.7,353.6 Z"/>
<ellipse cx="360.6" cy="349.7" rx="1.2" ry="3.0"/>
<ellipse cx="272.6" cy="357.4" rx="1.2" ry="3.0"/>
<path d="M275.2,361.3 A2.1,3.0 0 0 1 279.3,361.3 A2.1,0.9 0 0 0 275.2,361.3 Z"/>
<path d="M283.5,364.6 A2.8,3.0 0 0 1 289.0,364.6 A2.8,0.9 0 0 0 283.5,364.6 Z"/>
<path d="M295.3,366.8 A3.3,3.0 0 0 1 301.8,366.8 A3.3,0.9 0 0 0 295.3,366.8 Z"/>
<path d="M309.3,367.9 A3.5,3.0 0 0 1 316.3,367.9 A3.5,0.9 0 0 0 309.3,367.9 Z"/>
<path d="M324.0,367.5 A3.4,3.0 0 0 1 330.9,367.5 A3.4,0.9 0 0 0 324.0,367.5 Z"/>
<path d="M337.9,365.9 A3.1,3.0 0 0 1 344.0,365.9 A3.1,0.9 0 0 0 337.9,365.9 Z"/>
<path d="M349.3,363.1 A2.5,3.0 0 0 1 354.3,363.1 A2.5,0.9 0 0 0 349.3,363.1 Z"/>
<ellipse cx="358.8" cy="359.4" rx="1.7" ry="3.0"/>
<ellipse cx="274.3" cy="367.1" rx="1.7" ry="3.0"/>
<path d="M278.8,370.7 A2.4,3.0 0 0 1 283.7,370.7 A2.4,0.9 0 0 0 278.8,370.7 Z"/>
<path d="M289.0,373.5 A3.1,3.0 0 0 1 295.1,373.5 A3.1,0.9 0 0 0 289.0,373.5 Z"/>
<path d="M302.1,375.2 A3.4,3.0 0 0 1 308.9,375.2 A3.4,0.9 0 0 0 302.1,375.2 Z"/>
<path d="M316.7,375.6 A3.5,3.0 0 0 1 323.7,375.6 A3.5,0.9 0 0 0 316.7,375.6 Z"/>
<path d="M331.2,374.6 A3.3,3.0 0 0 1 337.7,374.6 A3.3,0.9 0 0 0 331.2,374.6 Z"/>
<path d="M344.0,372.3 A2.8,3.0 0 0 1 349.6,372.3 A2.8,0.9 0 0 0 344.0,372.3 Z"/>
<path d="M353.7,369.0 A2.1,3.0 0 0 1 357.9,369.0 A2.1,0.9 0 0 0 353.7,369.0 Z"/>
<ellipse cx="360.6" cy="365.1" rx="1.2" ry="3.0"/>
<ellipse cx="272.6" cy="372.8" rx="1.2" ry="3.0"/>
<path d="M275.2,376.7 A2.1,3.0 0 0 1 279.3,376.7 A2.1,0.9 0 0 0 275.2,376.7 Z"/>
<path d="M283.5,380.0 A2.8,3.0 0 0 1 289.0,380.0 A2.8,0.9 0 0 0 283.5,380.0 Z"/>
<path d="M295.3,382.2 A3.3,3.0 0 0 1 301.8,382.2 A3.3,0.9 0 0 0 295.3,382.2 Z"/>
<path d="M309.3,383.3 A3.5,3.0 0 0 1 316.3,383.3 A3.5,0.9 0 0 0 309.3,383.3 Z"/>
<path d="M324.0,382.9 A3.4,3.0 0 0 1 330.9,382.9 A3.4,0.9 0 0 0 324.0,382.9 Z"/>
<path d="M337.9,381.3 A3.1,3.0 0 0 1 344.0,381.3 A3.1,0.9 0 0 0 337.9,381.3 Z"/>
<path d="M349.3,378.5 A2.5,3.0 0 0 1 354.3,378.5 A2.5,0.9 0 0 0 349.3,378.5 Z"/>
<ellipse cx="358.8" cy="374.8" rx="1.7" ry="3.0"/>
<ellipse cx="274.3" cy="382.5" rx="1.7" ry="3.0"/>
<path d="M278.8,386.1 A2.4,3.0 0 0 1 283.7,386.1 A2.4,0.9 0 0 0 278.8,386.1 Z"/>
<path d="M289.0,388.9 A3.1,3.0 0 0 1 295.1,388.9 A3.1,0.9 0 0 0 289.0,388.9 Z"/>
<path d="M302.1,390.6 A3.4,3.0 0 0 1 308.9,390.6 A3.4,0.9 0 0 0 302.1,390.6 Z"/>
<path d="M316.7,391.0 A3.5,3.0 0 0 1 323.7,391.0 A3.5,0.9 0 0 0 316.7,391.0 Z"/>
<path d="M331.2,390.0 A3.3,3.0 0 0 1 337.7,390.0 A3.3,0.9 0 0 0 331.2,390.0 Z"/>
<path d="M344.0,387.7 A2.8,3.0 0 0 1 349.6,387.7 A2.8,0.9 0 0 0 344.0,387.7 Z"/>
<path d="M353.7,384.4 A2.1,3.0 0 0 1 357.9,384.4 A2.1,0.9 0 0 0 353.7,384.4 Z"/>
<ellipse cx="360.6" cy="380.5" rx="1.2" ry="3.0"/>
<ellipse cx="272.6" cy="388.2" rx="1.2" ry="3.0"/>
<path d="M275.2,392.1 A2.1,3.0 0 0 1 279.3,392.1 A2.1,0.9 0 0 0 275.2,392.1 Z"/>
<path d="M283.5,395.4 A2.8,3.0 0 0 1 289.0,395.4 A2.8,0.9 0 0 0 283.5,395.4 Z"/>
<path d="M295.3,397.6 A3.3,3.0 0 0 1 301.8,397.6 A3.3,0.9 0 0 0 295.3,397.6 Z"/>
<path d="M309.3,398.7 A3.5,3.0 0 0 1 316.3,398.7 A3.5,0.9 0 0 0 309.3,398.7 Z"/>
<path d="M324.0,398.3 A3.4,3.0 0 0 1 330.9,398.3 A3.4,0.9 0 0 0 324.0,398.3 Z"/>
<path d="M337.9,396.7 A3.1,3.0 0 0 1 344.0,396.7 A3.1,0.9 0 0 0 337.9,396.7 Z"/>
<path d="M349.3,393.9 A2.5,3.0 0 0 1 354.3,393.9 A2.5,0.9 0 0 0 349.3,393.9 Z"/>
<ellipse cx="358.8" cy="390.2" rx="1.7" ry="3.0"/>
<ellipse cx="274.3" cy="397.9" rx="1.7" ry="3.0"/>
<path d="M278.8,401.5 A2.4,3.0 0 0 1 283.7,401.5 A2.4,0.9 0 0 0 278.8,401.5 Z"/>
<path d="M289.0,404.3 A3.1,3.0 0 0 1 295.1,404.3 A3.1,0.9 0 0 0 289.0,404.3 Z"/>
<path d="M302.1,406.0 A3.4,3.0 0 0 1 308.9,406.0 A3.4,0.9 0 0 0 302.1,406.0 Z"/>
<path d="M316.7,406.4 A3.5,3.0 0 0 1 323.7,406.4 A3.5,0.9 0 0 0 316.7,406.4 Z"/>
<path d="M331.2,405.4 A3.3,3.0 0 0 1 337.7,405.4 A3.3,0.9 0 0 0 331.2,405.4 Z"/>
<path d="M344.0,403.1 A2.8,3.0 0 0 1 349.6,403.1 A2.8,0.9 0 0 0 344.0,403.1 Z"/>
<path d="M353.7,399.8 A2.1,3.0 0 0 1 357.9,399.8 A2.1,0.9 0 0 0 353.7,399.8 Z"/>
<ellipse cx="360.6" cy="395.9" rx="1.2" ry="3.0"/>
<ellipse cx="272.6" cy="403.6" rx="1.2" ry="3.0"/>
<path d="M275.2,407.5 A2.1,3.0 0 0 1 279.3,407.5 A2.1,0.9 0 0 0 275.2,407.5 Z"/>
<path d="M283.5,410.8 A2.8,3.0 0 0 1 289.0,410.8 A2.8,0.9 0 0 0 283.5,410.8 Z"/>
<path d="M295.3,413.0 A3.3,3.0 0 0 1 301.8,413.0 A3.3,0.9 0 0 0 295.3,413.0 Z"/>
<path d="M309.3,414.1 A3.5,3.0 0 0 1 316.3,414.1 A3.5,0.9 0 0 0 309.3,414.1 Z"/>
<path d="M324.0,413.7 A3.4,3.0 0 0 1 330.9,413.7 A3.4,0.9 0 0 0 324.0,413.7 Z"/>
<path d="M337.9,412.1 A3.1,3.0 0 0 1 344.0,412.1 A3.1,0.9 0 0 0 337.9,412.1 Z"/>
<path d="M349.3,409.3 A2.5,3.0 0 0 1 354.3,409.3 A2.5,0.9 0 0 0 349.3,409.3 Z"/>
<ellipse cx="358.8" cy="405.6" rx="1.7" ry="3.0"/>
<ellipse cx="274.3" cy="413.3" rx="1.7" ry="3.0"/>
<path d="M278.8,416.9 A2.4,3.0 0 0 1 283.7,416.9 A2.4,0.9 0 0 0 278.8,416.9 Z"/>
<path d="M289.0,419.7 A3.1,3.0 0 0 1 295.1,419.7 A3.1,0.9 0 0 0 289.0,419.7 Z"/>
<path d="M302.1,421.4 A3.4,3.0 0 0 1 308.9,421.4 A3.4,0.9 0 0 0 302.1,421.4 Z"/>
<path d="M316.7,421.8 A3.5,3.0 0 0 1 323.7,421.8 A3.5,0.9 0 0 0 316.7,421.8 Z"/>
<path d="M331.2,420.8 A3.3,3.0 0 0 1 337.7,420.8 A3.3,0.9 0 0 0 331.2,420.8 Z"/>
<path d="M344.0,418.5 A2.8,3.0 0 0 1 349.6,418.5 A2.8,0.9 0 0 0 344.0,418.5 Z"/>
<path d="M353.7,415.2 A2.1,3.0 0 0 1 357.9,415.2 A2.1,0.9 0 0 0 353.7,415.2 Z"/>
<ellipse cx="360.6" cy="411.3" rx="1.2" ry="3.0"/>
<ellipse cx="272.6" cy="419.0" rx="1.2" ry="3.0"/>
<path d="M275.2,422.9 A2.1,3.0 0 0 1 279.3,422.9 A2.1,0.9 0 0 0 275.2,422.9 Z"/>
<path d="M283.5,426.2 A2.8,3.0 0 0 1 289.0,426.2 A2.8,0.9 0 0 0 283.5,426.2 Z"/>
<path d="M295.3,428.4 A3.3,3.0 0 0 1 301.8,428.4 A3.3,0.9 0 0 0 295.3,428.4 Z"/>
<path d="M309.3,429.5 A3.5,3.0 0 0 1 316.3,429.5 A3.5,0.9 0 0 0 309.3,429.5 Z"/>
<path d="M324.0,429.1 A3.4,3.0 0 0 1 330.9,429.1 A3.4,0.9 0 0 0 324.0,429.1 Z"/>
<path d="M337.9,427.5 A3.1,3.0 0 0 1 344.0,427.5 A3.1,0.9 0 0 0 337.9,427.5 Z"/>
<path d="M349.3,424.7 A2.5,3.0 0 0 1 354.3,424.7 A2.5,0.9 0 0 0 349.3,424.7 Z"/>
<ellipse cx="358.8" cy="421.0" rx="1.7" ry="3.0"/>
<ellipse cx="274.3" cy="428.7" rx="1.7" ry="3.0"/>
<path d="M278.8,432.3 A2.4,3.0 0 0 1 283.7,432.3 A2.4,0.9 0 0 0 278.8,432.3 Z"/>
<path d="M289.0,435.1 A3.1,3.0 0 0 1 295.1,435.1 A3.1,0.9 0 0 0 289.0,435.1 Z"/>
<path d="M302.1,436.8 A3.4,3.0 0 0 1 308.9,436.8 A3.4,0.9 0 0 0 302.1,436.8 Z"/>
<path d="M316.7,437.2 A3.5,3.0 0 0 1 323.7,437.2 A3.5,0.9 0 0 0 316.7,437.2 Z"/>
<path d="M331.2,436.2 A3.3,3.0 0 0 1 337.7,436.2 A3.3,0.9 0 0 0 331.2,436.2 Z"/>
<path d="M344.0,433.9 A2.8,3.0 0 0 1 349.6,433.9 A2.8,0.9 0 0 0 344.0,433.9 Z"/>
<path d="M353.7,430.6 A2.1,3.0 0 0 1 357.9,430.6 A2.1,0.9 0 0 0 353.7,430.6 Z"/>
<ellipse cx="360.6" cy="426.7" rx="1.2" ry="3.0"/>
<ellipse cx="272.6" cy="434.4" rx="1.2" ry="3.0"/>
<path d="M275.2,438.3 A2.1,3.0 0 0 1 279.3,438.3 A2.1,0.9 0 0 0 275.2,438.3 Z"/>
<path d="M283.5,441.6 A2.8,3.0 0 0 1 289.0,441.6 A2.8,0.9 0 0 0 283.5,441.6 Z"/>
<path d="M295.3,443.8 A3.3,3.0 0 0 1 301.8,443.8 A3.3,0.9 0 0 0 295.3,443.8 Z"/>
<path d="M309.3,444.9 A3.5,3.0 0 0 1 316.3,444.9 A3.5,0.9 0 0 0 309.3,444.9 Z"/>
<path d="M324.0,444.5 A3.4,3.0 0 0 1 330.9,444.5 A3.4,0.9 0 0 0 324.0,444.5 Z"/>
<path d="M337.9,442.9 A3.1,3.0 0 0 1 344.0,442.9 A3.1,0.9 0 0 0 337.9,442.9 Z"/>
<path d="M349.3,440.1 A2.5,3.0 0 0 1 354.3,440.1 A2.5,0.9 0 0 0 349.3,440.1 Z"/>
<ellipse cx="358.8" cy="436.4" rx="1.7" ry="3.0"/>
<path d="M289.0,450.5 A3.1,3.0 0 0 1 295.1,450.5 A3.1,0.9 0 0 0 289.0,450.5 Z"/>
<path d="M302.1,452.2 A3.4,3.0 0 0 1 308.9,452.2 A3.4,0.9 0 0 0 302.1,452.2 Z"/>
<path d="M316.7,452.6 A3.5,3.0 0 0 1 323.7,452.6 A3.5,0.9 0 0 0 316.7,452.6 Z"/>
<path d="M331.2,451.6 A3.3,3.0 0 0 1 337.7,451.6 A3.3,0.9 0 0 0 331.2,451.6 Z"/>
</g>
<g class="t"><path d="M355,396.3 L403,399.5"/></g>
<!-- 55_filter18.svg -->
<g class="l">
<path class="k" d="M616.2,326.25 L616.2,441.8 M704.7,326.25 L704.7,441.8"/>
<path class="t" d="M703.2,337.05 L703.2,437"/>
<ellipse cx="660.6" cy="326.25" rx="44.4" ry="23.75"/>
<path d="M616.2,333.05 A44.4,23.75 0 0 0 705.0,333.05"/>
<ellipse class="k" cx="659.5" cy="328" rx="11.3" ry="7.3"/>
<ellipse class="k" cx="659.8" cy="329" rx="7.6" ry="4.6"/>
<ellipse class="t" cx="660" cy="330.3" rx="5" ry="2.8"/>
<path class="k" d="M649.5,325 Q652,321 659.5,320.7 Q667,321 669.5,325"/>
<path d="M616.2,435 A44.4,23.75 0 0 0 705.0,435"/>
<path class="k" d="M616.2,441.8 A44.4,23.75 0 0 0 705.0,441.8"/>
</g>
<g fill="#c0c0c0" stroke="#151515" stroke-width="1.5">
<ellipse cx="619.0" cy="347.4" rx="1.7" ry="3.0"/>
<ellipse cx="626.3" cy="351.0" rx="2.5" ry="3.0"/>
<ellipse cx="700.3" cy="348.6" rx="2.0" ry="3.0"/>
<ellipse cx="704.6" cy="344.7" rx="1.2" ry="3.0"/>
<ellipse cx="617.0" cy="352.4" rx="1.3" ry="3.0"/>
<ellipse cx="622.1" cy="356.2" rx="2.2" ry="3.0"/>
<ellipse cx="631.5" cy="359.4" rx="2.8" ry="3.0"/>
<ellipse cx="644.0" cy="361.6" rx="3.3" ry="3.0"/>
<ellipse cx="658.3" cy="362.5" rx="3.5" ry="3.0"/>
<ellipse cx="672.8" cy="362.0" rx="3.4" ry="3.0"/>
<ellipse cx="686.1" cy="360.2" rx="3.0" ry="3.0"/>
<ellipse cx="696.5" cy="357.3" rx="2.4" ry="3.0"/>
<ellipse cx="703.1" cy="353.7" rx="1.6" ry="3.0"/>
<ellipse cx="619.0" cy="361.3" rx="1.7" ry="3.0"/>
<ellipse cx="626.3" cy="364.9" rx="2.5" ry="3.0"/>
<ellipse cx="637.4" cy="367.6" rx="3.1" ry="3.0"/>
<ellipse cx="651.0" cy="369.2" rx="3.4" ry="3.0"/>
<ellipse cx="665.6" cy="369.4" rx="3.5" ry="3.0"/>
<ellipse cx="679.7" cy="368.2" rx="3.2" ry="3.0"/>
<ellipse cx="691.7" cy="365.9" rx="2.7" ry="3.0"/>
<ellipse cx="700.3" cy="362.5" rx="2.0" ry="3.0"/>
<ellipse cx="704.6" cy="358.6" rx="1.2" ry="3.0"/>
<ellipse cx="617.0" cy="366.3" rx="1.3" ry="3.0"/>
<ellipse cx="622.1" cy="370.1" rx="2.2" ry="3.0"/>
<ellipse cx="631.5" cy="373.3" rx="2.8" ry="3.0"/>
<ellipse cx="644.0" cy="375.5" rx="3.3" ry="3.0"/>
<ellipse cx="658.3" cy="376.4" rx="3.5" ry="3.0"/>
<ellipse cx="672.8" cy="375.9" rx="3.4" ry="3.0"/>
<ellipse cx="686.1" cy="374.1" rx="3.0" ry="3.0"/>
<ellipse cx="696.5" cy="371.2" rx="2.4" ry="3.0"/>
<ellipse cx="703.1" cy="367.6" rx="1.6" ry="3.0"/>
<ellipse cx="619.0" cy="375.2" rx="1.7" ry="3.0"/>
<ellipse cx="626.3" cy="378.8" rx="2.5" ry="3.0"/>
<ellipse cx="637.4" cy="381.5" rx="3.1" ry="3.0"/>
<ellipse cx="651.0" cy="383.1" rx="3.4" ry="3.0"/>
<ellipse cx="665.6" cy="383.3" rx="3.5" ry="3.0"/>
<ellipse cx="679.7" cy="382.1" rx="3.2" ry="3.0"/>
<ellipse cx="691.7" cy="379.8" rx="2.7" ry="3.0"/>
<ellipse cx="700.3" cy="376.4" rx="2.0" ry="3.0"/>
<ellipse cx="704.6" cy="372.5" rx="1.2" ry="3.0"/>
<ellipse cx="617.0" cy="380.2" rx="1.3" ry="3.0"/>
<ellipse cx="622.1" cy="384.1" rx="2.2" ry="3.0"/>
<ellipse cx="631.5" cy="387.2" rx="2.8" ry="3.0"/>
<ellipse cx="644.0" cy="389.4" rx="3.3" ry="3.0"/>
<ellipse cx="658.3" cy="390.3" rx="3.5" ry="3.0"/>
<ellipse cx="672.8" cy="389.8" rx="3.4" ry="3.0"/>
<ellipse cx="686.1" cy="388.0" rx="3.0" ry="3.0"/>
<ellipse cx="696.5" cy="385.1" rx="2.4" ry="3.0"/>
<ellipse cx="703.1" cy="381.5" rx="1.6" ry="3.0"/>
<ellipse cx="619.0" cy="389.1" rx="1.7" ry="3.0"/>
<ellipse cx="626.3" cy="392.7" rx="2.5" ry="3.0"/>
<ellipse cx="637.4" cy="395.4" rx="3.1" ry="3.0"/>
<ellipse cx="651.0" cy="397.0" rx="3.4" ry="3.0"/>
<ellipse cx="665.6" cy="397.2" rx="3.5" ry="3.0"/>
<ellipse cx="679.7" cy="396.0" rx="3.2" ry="3.0"/>
<ellipse cx="691.7" cy="393.7" rx="2.7" ry="3.0"/>
<ellipse cx="700.3" cy="390.3" rx="2.0" ry="3.0"/>
<ellipse cx="704.6" cy="386.4" rx="1.2" ry="3.0"/>
<ellipse cx="617.0" cy="394.1" rx="1.3" ry="3.0"/>
<ellipse cx="622.1" cy="397.9" rx="2.2" ry="3.0"/>
<ellipse cx="631.5" cy="401.1" rx="2.8" ry="3.0"/>
<ellipse cx="644.0" cy="403.3" rx="3.3" ry="3.0"/>
<ellipse cx="658.3" cy="404.2" rx="3.5" ry="3.0"/>
<ellipse cx="672.8" cy="403.7" rx="3.4" ry="3.0"/>
<ellipse cx="686.1" cy="401.9" rx="3.0" ry="3.0"/>
<ellipse cx="696.5" cy="399.0" rx="2.4" ry="3.0"/>
<ellipse cx="703.1" cy="395.4" rx="1.6" ry="3.0"/>
<ellipse cx="619.0" cy="403.0" rx="1.7" ry="3.0"/>
<ellipse cx="626.3" cy="406.6" rx="2.5" ry="3.0"/>
<ellipse cx="637.4" cy="409.3" rx="3.1" ry="3.0"/>
<ellipse cx="651.0" cy="410.9" rx="3.4" ry="3.0"/>
<ellipse cx="665.6" cy="411.1" rx="3.5" ry="3.0"/>
<ellipse cx="679.7" cy="409.9" rx="3.2" ry="3.0"/>
<ellipse cx="691.7" cy="407.6" rx="2.7" ry="3.0"/>
<ellipse cx="700.3" cy="404.2" rx="2.0" ry="3.0"/>
<ellipse cx="704.6" cy="400.3" rx="1.2" ry="3.0"/>
<ellipse cx="617.0" cy="408.0" rx="1.3" ry="3.0"/>
<ellipse cx="622.1" cy="411.9" rx="2.2" ry="3.0"/>
<ellipse cx="631.5" cy="415.0" rx="2.8" ry="3.0"/>
<ellipse cx="644.0" cy="417.2" rx="3.3" ry="3.0"/>
<ellipse cx="658.3" cy="418.1" rx="3.5" ry="3.0"/>
<ellipse cx="672.8" cy="417.6" rx="3.4" ry="3.0"/>
<ellipse cx="686.1" cy="415.8" rx="3.0" ry="3.0"/>
<ellipse cx="696.5" cy="412.9" rx="2.4" ry="3.0"/>
<ellipse cx="703.1" cy="409.3" rx="1.6" ry="3.0"/>
<ellipse cx="619.0" cy="416.9" rx="1.7" ry="3.0"/>
<ellipse cx="626.3" cy="420.5" rx="2.5" ry="3.0"/>
<ellipse cx="637.4" cy="423.2" rx="3.1" ry="3.0"/>
<ellipse cx="651.0" cy="424.8" rx="3.4" ry="3.0"/>
<ellipse cx="665.6" cy="425.0" rx="3.5" ry="3.0"/>
<ellipse cx="679.7" cy="423.8" rx="3.2" ry="3.0"/>
<ellipse cx="691.7" cy="421.5" rx="2.7" ry="3.0"/>
<ellipse cx="700.3" cy="418.1" rx="2.0" ry="3.0"/>
<ellipse cx="704.6" cy="414.2" rx="1.2" ry="3.0"/>
<ellipse cx="617.0" cy="421.9" rx="1.3" ry="3.0"/>
<ellipse cx="622.1" cy="425.8" rx="2.2" ry="3.0"/>
<ellipse cx="631.5" cy="428.9" rx="2.8" ry="3.0"/>
<ellipse cx="644.0" cy="431.1" rx="3.3" ry="3.0"/>
<ellipse cx="658.3" cy="432.0" rx="3.5" ry="3.0"/>
<ellipse cx="672.8" cy="431.5" rx="3.4" ry="3.0"/>
<ellipse cx="686.1" cy="429.7" rx="3.0" ry="3.0"/>
<ellipse cx="696.5" cy="426.8" rx="2.4" ry="3.0"/>
<ellipse cx="703.1" cy="423.2" rx="1.6" ry="3.0"/>
<ellipse cx="619.0" cy="430.8" rx="1.7" ry="3.0"/>
<ellipse cx="626.3" cy="434.4" rx="2.5" ry="3.0"/>
<ellipse cx="637.4" cy="437.1" rx="3.1" ry="3.0"/>
<ellipse cx="651.0" cy="438.7" rx="3.4" ry="3.0"/>
<ellipse cx="665.6" cy="438.9" rx="3.5" ry="3.0"/>
<ellipse cx="679.7" cy="437.7" rx="3.2" ry="3.0"/>
<ellipse cx="691.7" cy="435.4" rx="2.7" ry="3.0"/>
<ellipse cx="700.3" cy="432.0" rx="2.0" ry="3.0"/>
<ellipse cx="704.6" cy="428.1" rx="1.2" ry="3.0"/>
<ellipse cx="617.0" cy="435.8" rx="1.3" ry="3.0"/>
<ellipse cx="622.1" cy="439.6" rx="2.2" ry="3.0"/>
<ellipse cx="631.5" cy="442.8" rx="2.8" ry="3.0"/>
<ellipse cx="644.0" cy="445.0" rx="3.3" ry="3.0"/>
<ellipse cx="658.3" cy="445.9" rx="3.5" ry="3.0"/>
<ellipse cx="672.8" cy="445.4" rx="3.4" ry="3.0"/>
<ellipse cx="686.1" cy="443.6" rx="3.0" ry="3.0"/>
<ellipse cx="696.5" cy="440.7" rx="2.4" ry="3.0"/>
<ellipse cx="703.1" cy="437.1" rx="1.6" ry="3.0"/>
<ellipse cx="637.4" cy="451.0" rx="3.1" ry="3.0"/>
<ellipse cx="651.0" cy="452.6" rx="3.4" ry="3.0"/>
<ellipse cx="665.6" cy="452.8" rx="3.5" ry="3.0"/>
<ellipse cx="679.7" cy="451.6" rx="3.2" ry="3.0"/>
</g>
<g class="b">
<ellipse cx="619.0" cy="347.4" rx="1.7" ry="3.0"/>
<path d="M623.8,351.0 A2.5,3.0 0 0 1 628.9,351.0 A2.5,0.9 0 0 0 623.8,351.0 Z"/>
<ellipse cx="700.3" cy="348.6" rx="2.0" ry="3.0"/>
<ellipse cx="704.6" cy="344.7" rx="1.2" ry="3.0"/>
<ellipse cx="617.0" cy="352.4" rx="1.3" ry="3.0"/>
<path d="M620.0,356.2 A2.2,3.0 0 0 1 624.3,356.2 A2.2,0.9 0 0 0 620.0,356.2 Z"/>
<path d="M628.6,359.4 A2.8,3.0 0 0 1 634.3,359.4 A2.8,0.9 0 0 0 628.6,359.4 Z"/>
<path d="M640.7,361.6 A3.3,3.0 0 0 1 647.3,361.6 A3.3,0.9 0 0 0 640.7,361.6 Z"/>
<path d="M654.8,362.5 A3.5,3.0 0 0 1 661.8,362.5 A3.5,0.9 0 0 0 654.8,362.5 Z"/>
<path d="M669.4,362.0 A3.4,3.0 0 0 1 676.2,362.0 A3.4,0.9 0 0 0 669.4,362.0 Z"/>
<path d="M683.1,360.2 A3.0,3.0 0 0 1 689.1,360.2 A3.0,0.9 0 0 0 683.1,360.2 Z"/>
<path d="M694.1,357.3 A2.4,3.0 0 0 1 698.9,357.3 A2.4,0.9 0 0 0 694.1,357.3 Z"/>
<ellipse cx="703.1" cy="353.7" rx="1.6" ry="3.0"/>
<ellipse cx="619.0" cy="361.3" rx="1.7" ry="3.0"/>
<path d="M623.8,364.9 A2.5,3.0 0 0 1 628.9,364.9 A2.5,0.9 0 0 0 623.8,364.9 Z"/>
<path d="M634.3,367.6 A3.1,3.0 0 0 1 640.5,367.6 A3.1,0.9 0 0 0 634.3,367.6 Z"/>
<path d="M647.6,369.2 A3.4,3.0 0 0 1 654.4,369.2 A3.4,0.9 0 0 0 647.6,369.2 Z"/>
<path d="M662.1,369.4 A3.5,3.0 0 0 1 669.1,369.4 A3.5,0.9 0 0 0 662.1,369.4 Z"/>
<path d="M676.5,368.2 A3.2,3.0 0 0 1 683.0,368.2 A3.2,0.9 0 0 0 676.5,368.2 Z"/>
<path d="M689.0,365.9 A2.7,3.0 0 0 1 694.4,365.9 A2.7,0.9 0 0 0 689.0,365.9 Z"/>
<ellipse cx="700.3" cy="362.5" rx="2.0" ry="3.0"/>
<ellipse cx="704.6" cy="358.6" rx="1.2" ry="3.0"/>
<ellipse cx="617.0" cy="366.3" rx="1.3" ry="3.0"/>
<path d="M620.0,370.1 A2.2,3.0 0 0 1 624.3,370.1 A2.2,0.9 0 0 0 620.0,370.1 Z"/>
<path d="M628.6,373.3 A2.8,3.0 0 0 1 634.3,373.3 A2.8,0.9 0 0 0 628.6,373.3 Z"/>
<path d="M640.7,375.5 A3.3,3.0 0 0 1 647.3,375.5 A3.3,0.9 0 0 0 640.7,375.5 Z"/>
<path d="M654.8,376.4 A3.5,3.0 0 0 1 661.8,376.4 A3.5,0.9 0 0 0 654.8,376.4 Z"/>
<path d="M669.4,375.9 A3.4,3.0 0 0 1 676.2,375.9 A3.4,0.9 0 0 0 669.4,375.9 Z"/>
<path d="M683.1,374.1 A3.0,3.0 0 0 1 689.1,374.1 A3.0,0.9 0 0 0 683.1,374.1 Z"/>
<path d="M694.1,371.2 A2.4,3.0 0 0 1 698.9,371.2 A2.4,0.9 0 0 0 694.1,371.2 Z"/>
<ellipse cx="703.1" cy="367.6" rx="1.6" ry="3.0"/>
<ellipse cx="619.0" cy="375.2" rx="1.7" ry="3.0"/>
<path d="M623.8,378.8 A2.5,3.0 0 0 1 628.9,378.8 A2.5,0.9 0 0 0 623.8,378.8 Z"/>
<path d="M634.3,381.5 A3.1,3.0 0 0 1 640.5,381.5 A3.1,0.9 0 0 0 634.3,381.5 Z"/>
<path d="M647.6,383.1 A3.4,3.0 0 0 1 654.4,383.1 A3.4,0.9 0 0 0 647.6,383.1 Z"/>
<path d="M662.1,383.3 A3.5,3.0 0 0 1 669.1,383.3 A3.5,0.9 0 0 0 662.1,383.3 Z"/>
<path d="M676.5,382.1 A3.2,3.0 0 0 1 683.0,382.1 A3.2,0.9 0 0 0 676.5,382.1 Z"/>
<path d="M689.0,379.8 A2.7,3.0 0 0 1 694.4,379.8 A2.7,0.9 0 0 0 689.0,379.8 Z"/>
<ellipse cx="700.3" cy="376.4" rx="2.0" ry="3.0"/>
<ellipse cx="704.6" cy="372.5" rx="1.2" ry="3.0"/>
<ellipse cx="617.0" cy="380.2" rx="1.3" ry="3.0"/>
<path d="M620.0,384.1 A2.2,3.0 0 0 1 624.3,384.1 A2.2,0.9 0 0 0 620.0,384.1 Z"/>
<path d="M628.6,387.2 A2.8,3.0 0 0 1 634.3,387.2 A2.8,0.9 0 0 0 628.6,387.2 Z"/>
<path d="M640.7,389.4 A3.3,3.0 0 0 1 647.3,389.4 A3.3,0.9 0 0 0 640.7,389.4 Z"/>
<path d="M654.8,390.3 A3.5,3.0 0 0 1 661.8,390.3 A3.5,0.9 0 0 0 654.8,390.3 Z"/>
<path d="M669.4,389.8 A3.4,3.0 0 0 1 676.2,389.8 A3.4,0.9 0 0 0 669.4,389.8 Z"/>
<path d="M683.1,388.0 A3.0,3.0 0 0 1 689.1,388.0 A3.0,0.9 0 0 0 683.1,388.0 Z"/>
<path d="M694.1,385.1 A2.4,3.0 0 0 1 698.9,385.1 A2.4,0.9 0 0 0 694.1,385.1 Z"/>
<ellipse cx="703.1" cy="381.5" rx="1.6" ry="3.0"/>
<ellipse cx="619.0" cy="389.1" rx="1.7" ry="3.0"/>
<path d="M623.8,392.7 A2.5,3.0 0 0 1 628.9,392.7 A2.5,0.9 0 0 0 623.8,392.7 Z"/>
<path d="M634.3,395.4 A3.1,3.0 0 0 1 640.5,395.4 A3.1,0.9 0 0 0 634.3,395.4 Z"/>
<path d="M647.6,397.0 A3.4,3.0 0 0 1 654.4,397.0 A3.4,0.9 0 0 0 647.6,397.0 Z"/>
<path d="M662.1,397.2 A3.5,3.0 0 0 1 669.1,397.2 A3.5,0.9 0 0 0 662.1,397.2 Z"/>
<path d="M676.5,396.0 A3.2,3.0 0 0 1 683.0,396.0 A3.2,0.9 0 0 0 676.5,396.0 Z"/>
<path d="M689.0,393.7 A2.7,3.0 0 0 1 694.4,393.7 A2.7,0.9 0 0 0 689.0,393.7 Z"/>
<ellipse cx="700.3" cy="390.3" rx="2.0" ry="3.0"/>
<ellipse cx="704.6" cy="386.4" rx="1.2" ry="3.0"/>
<ellipse cx="617.0" cy="394.1" rx="1.3" ry="3.0"/>
<path d="M620.0,397.9 A2.2,3.0 0 0 1 624.3,397.9 A2.2,0.9 0 0 0 620.0,397.9 Z"/>
<path d="M628.6,401.1 A2.8,3.0 0 0 1 634.3,401.1 A2.8,0.9 0 0 0 628.6,401.1 Z"/>
<path d="M640.7,403.3 A3.3,3.0 0 0 1 647.3,403.3 A3.3,0.9 0 0 0 640.7,403.3 Z"/>
<path d="M654.8,404.2 A3.5,3.0 0 0 1 661.8,404.2 A3.5,0.9 0 0 0 654.8,404.2 Z"/>
<path d="M669.4,403.7 A3.4,3.0 0 0 1 676.2,403.7 A3.4,0.9 0 0 0 669.4,403.7 Z"/>
<path d="M683.1,401.9 A3.0,3.0 0 0 1 689.1,401.9 A3.0,0.9 0 0 0 683.1,401.9 Z"/>
<path d="M694.1,399.0 A2.4,3.0 0 0 1 698.9,399.0 A2.4,0.9 0 0 0 694.1,399.0 Z"/>
<ellipse cx="703.1" cy="395.4" rx="1.6" ry="3.0"/>
<ellipse cx="619.0" cy="403.0" rx="1.7" ry="3.0"/>
<path d="M623.8,406.6 A2.5,3.0 0 0 1 628.9,406.6 A2.5,0.9 0 0 0 623.8,406.6 Z"/>
<path d="M634.3,409.3 A3.1,3.0 0 0 1 640.5,409.3 A3.1,0.9 0 0 0 634.3,409.3 Z"/>
<path d="M647.6,410.9 A3.4,3.0 0 0 1 654.4,410.9 A3.4,0.9 0 0 0 647.6,410.9 Z"/>
<path d="M662.1,411.1 A3.5,3.0 0 0 1 669.1,411.1 A3.5,0.9 0 0 0 662.1,411.1 Z"/>
<path d="M676.5,409.9 A3.2,3.0 0 0 1 683.0,409.9 A3.2,0.9 0 0 0 676.5,409.9 Z"/>
<path d="M689.0,407.6 A2.7,3.0 0 0 1 694.4,407.6 A2.7,0.9 0 0 0 689.0,407.6 Z"/>
<ellipse cx="700.3" cy="404.2" rx="2.0" ry="3.0"/>
<ellipse cx="704.6" cy="400.3" rx="1.2" ry="3.0"/>
<ellipse cx="617.0" cy="408.0" rx="1.3" ry="3.0"/>
<path d="M620.0,411.9 A2.2,3.0 0 0 1 624.3,411.9 A2.2,0.9 0 0 0 620.0,411.9 Z"/>
<path d="M628.6,415.0 A2.8,3.0 0 0 1 634.3,415.0 A2.8,0.9 0 0 0 628.6,415.0 Z"/>
<path d="M640.7,417.2 A3.3,3.0 0 0 1 647.3,417.2 A3.3,0.9 0 0 0 640.7,417.2 Z"/>
<path d="M654.8,418.1 A3.5,3.0 0 0 1 661.8,418.1 A3.5,0.9 0 0 0 654.8,418.1 Z"/>
<path d="M669.4,417.6 A3.4,3.0 0 0 1 676.2,417.6 A3.4,0.9 0 0 0 669.4,417.6 Z"/>
<path d="M683.1,415.8 A3.0,3.0 0 0 1 689.1,415.8 A3.0,0.9 0 0 0 683.1,415.8 Z"/>
<path d="M694.1,412.9 A2.4,3.0 0 0 1 698.9,412.9 A2.4,0.9 0 0 0 694.1,412.9 Z"/>
<ellipse cx="703.1" cy="409.3" rx="1.6" ry="3.0"/>
<ellipse cx="619.0" cy="416.9" rx="1.7" ry="3.0"/>
<path d="M623.8,420.5 A2.5,3.0 0 0 1 628.9,420.5 A2.5,0.9 0 0 0 623.8,420.5 Z"/>
<path d="M634.3,423.2 A3.1,3.0 0 0 1 640.5,423.2 A3.1,0.9 0 0 0 634.3,423.2 Z"/>
<path d="M647.6,424.8 A3.4,3.0 0 0 1 654.4,424.8 A3.4,0.9 0 0 0 647.6,424.8 Z"/>
<path d="M662.1,425.0 A3.5,3.0 0 0 1 669.1,425.0 A3.5,0.9 0 0 0 662.1,425.0 Z"/>
<path d="M676.5,423.8 A3.2,3.0 0 0 1 683.0,423.8 A3.2,0.9 0 0 0 676.5,423.8 Z"/>
<path d="M689.0,421.5 A2.7,3.0 0 0 1 694.4,421.5 A2.7,0.9 0 0 0 689.0,421.5 Z"/>
<ellipse cx="700.3" cy="418.1" rx="2.0" ry="3.0"/>
<ellipse cx="704.6" cy="414.2" rx="1.2" ry="3.0"/>
<ellipse cx="617.0" cy="421.9" rx="1.3" ry="3.0"/>
<path d="M620.0,425.8 A2.2,3.0 0 0 1 624.3,425.8 A2.2,0.9 0 0 0 620.0,425.8 Z"/>
<path d="M628.6,428.9 A2.8,3.0 0 0 1 634.3,428.9 A2.8,0.9 0 0 0 628.6,428.9 Z"/>
<path d="M640.7,431.1 A3.3,3.0 0 0 1 647.3,431.1 A3.3,0.9 0 0 0 640.7,431.1 Z"/>
<path d="M654.8,432.0 A3.5,3.0 0 0 1 661.8,432.0 A3.5,0.9 0 0 0 654.8,432.0 Z"/>
<path d="M669.4,431.5 A3.4,3.0 0 0 1 676.2,431.5 A3.4,0.9 0 0 0 669.4,431.5 Z"/>
<path d="M683.1,429.7 A3.0,3.0 0 0 1 689.1,429.7 A3.0,0.9 0 0 0 683.1,429.7 Z"/>
<path d="M694.1,426.8 A2.4,3.0 0 0 1 698.9,426.8 A2.4,0.9 0 0 0 694.1,426.8 Z"/>
<ellipse cx="703.1" cy="423.2" rx="1.6" ry="3.0"/>
<ellipse cx="619.0" cy="430.8" rx="1.7" ry="3.0"/>
<path d="M623.8,434.4 A2.5,3.0 0 0 1 628.9,434.4 A2.5,0.9 0 0 0 623.8,434.4 Z"/>
<path d="M634.3,437.1 A3.1,3.0 0 0 1 640.5,437.1 A3.1,0.9 0 0 0 634.3,437.1 Z"/>
<path d="M647.6,438.7 A3.4,3.0 0 0 1 654.4,438.7 A3.4,0.9 0 0 0 647.6,438.7 Z"/>
<path d="M662.1,438.9 A3.5,3.0 0 0 1 669.1,438.9 A3.5,0.9 0 0 0 662.1,438.9 Z"/>
<path d="M676.5,437.7 A3.2,3.0 0 0 1 683.0,437.7 A3.2,0.9 0 0 0 676.5,437.7 Z"/>
<path d="M689.0,435.4 A2.7,3.0 0 0 1 694.4,435.4 A2.7,0.9 0 0 0 689.0,435.4 Z"/>
<ellipse cx="700.3" cy="432.0" rx="2.0" ry="3.0"/>
<ellipse cx="704.6" cy="428.1" rx="1.2" ry="3.0"/>
<ellipse cx="617.0" cy="435.8" rx="1.3" ry="3.0"/>
<path d="M620.0,439.6 A2.2,3.0 0 0 1 624.3,439.6 A2.2,0.9 0 0 0 620.0,439.6 Z"/>
<path d="M628.6,442.8 A2.8,3.0 0 0 1 634.3,442.8 A2.8,0.9 0 0 0 628.6,442.8 Z"/>
<path d="M640.7,445.0 A3.3,3.0 0 0 1 647.3,445.0 A3.3,0.9 0 0 0 640.7,445.0 Z"/>
<path d="M654.8,445.9 A3.5,3.0 0 0 1 661.8,445.9 A3.5,0.9 0 0 0 654.8,445.9 Z"/>
<path d="M669.4,445.4 A3.4,3.0 0 0 1 676.2,445.4 A3.4,0.9 0 0 0 669.4,445.4 Z"/>
<path d="M683.1,443.6 A3.0,3.0 0 0 1 689.1,443.6 A3.0,0.9 0 0 0 683.1,443.6 Z"/>
<path d="M694.1,440.7 A2.4,3.0 0 0 1 698.9,440.7 A2.4,0.9 0 0 0 694.1,440.7 Z"/>
<ellipse cx="703.1" cy="437.1" rx="1.6" ry="3.0"/>
<path d="M634.3,451.0 A3.1,3.0 0 0 1 640.5,451.0 A3.1,0.9 0 0 0 634.3,451.0 Z"/>
<path d="M647.6,452.6 A3.4,3.0 0 0 1 654.4,452.6 A3.4,0.9 0 0 0 647.6,452.6 Z"/>
<path d="M662.1,452.8 A3.5,3.0 0 0 1 669.1,452.8 A3.5,0.9 0 0 0 662.1,452.8 Z"/>
<path d="M676.5,451.6 A3.2,3.0 0 0 1 683.0,451.6 A3.2,0.9 0 0 0 676.5,451.6 Z"/>
</g>
<g class="t"><path d="M705,390.8 L761.3,391.3"/></g>
<!-- 56_w17.svg -->
<g class="l">
<!-- 17 top -->
<ellipse class="k" cx="660.6" cy="284.9" rx="18.4" ry="10.7"/>
<path d="M642.2,285 L642.4,289.5 Q645,298.3 660.6,299.6 Q676,298.3 678.8,289.5 L679,285"/>
<path class="t" d="M646,291 Q652,296.3 661,296.6 Q670,296.3 676,290.5"/>
<path class="k" d="M649.2,282.9 L655.4,282.1 L658.9,278.6 L668.5,279.4 L668.5,283.8 L673.3,283.8 L672.9,288.6 L669.8,286.9 L667.6,286.9 L666.7,290.4 L663.2,291.2 L659.3,286.9 L656.2,288.6 L652.3,290.4 L649.7,286 Z"/>
<path d="M655.4,282.1 L656.2,288.6 M658.9,278.6 L659.3,286.4 L667.6,286.9 L668.5,279.4"/>
<!-- 17 bottom -->
<ellipse class="k" cx="662.4" cy="481" rx="17" ry="9.8"/>
<path d="M645.4,481 L645.6,486.8 Q648,495.2 662.4,496.7 Q677,495.2 679.2,486.8 L679.4,481"/>
<ellipse cx="662.2" cy="480.4" rx="9.2" ry="5.6"/>
<path class="k" d="M656.7,478 L656.9,474 Q658,471.4 662.5,471.2 Q667,471.4 668.3,474 L668.5,478 Q667,481 662.5,481.2 Q658,481 656.7,478 Z"/>
<ellipse class="b" cx="662.5" cy="476.3" rx="2.6" ry="1.9"/>
<path class="t" d="M658,475.5 Q662.5,472.5 667.2,475.5"/>
</g>
<g class="t">
<path d="M678.8,286.3 L761.3,305"/>
<path d="M679.5,480.5 L761.3,458.8"/>
</g>
<!-- 57_s1920.svg -->
<g class="l">
<!-- 19 washer with notches -->
<path class="f" d="M648,622.5 Q649,616.5 660,615.3 L662.5,615 L663.2,617.3 L667.8,617.3 L668.5,615.2 Q678,616 680.5,621 Q681.5,626 680,628.5 L680.2,633 Q678,636.5 671.5,637.5 Q664,638.5 657,636.5 Q650,634 648.3,629 Z"/>
<path d="M648.5,624.5 Q653,631.5 664,632 L671,631.6 L671.2,627.3 L677,626 L680,628.5"/>
<path d="M671,631.6 L671.3,637.5 M677,626 L677.3,630"/>
<ellipse class="k" cx="662.8" cy="623.6" rx="7.2" ry="4.4"/>
<path class="t" d="M656.5,625 Q662,620.8 669.5,624.5"/>
<path class="k" d="M662,638.5 L663,641.5 M666.5,638.3 L668,641"/>
<path class="b" d="M651.0,647 L651.0,676.5 A13.600000000000023,6.5 0 0 0 678.2,676.5 L678.2,647 Z"/>
<path class="f" d="M651.0,673.9000000000001 A13.600000000000023,5.8 0 0 0 678.2,673.9000000000001 L678.2,677.9000000000001 A13.600000000000023,6.8 0 0 1 651.0,677.9000000000001 Z"/>
<path class="f" d="M651.0,666.6 A13.600000000000023,5.8 0 0 0 678.2,666.6 L678.2,670.6 A13.600000000000023,6.8 0 0 1 651.0,670.6 Z"/>
<path class="f" d="M651.0,659.3000000000001 A13.600000000000023,5.8 0 0 0 678.2,659.3000000000001 L678.2,663.3000000000001 A13.600000000000023,6.8 0 0 1 651.0,663.3000000000001 Z"/>
<path class="f" d="M651.0,652.0 A13.600000000000023,5.8 0 0 0 678.2,652.0 L678.2,656.0 A13.600000000000023,6.8 0 0 1 651.0,656.0 Z"/>
<path class="f" d="M651.0,647.2 A13.600000000000023,6.3 0 0 1 678.2,647.2 L678.2,650.5 A13.600000000000023,6.8 0 0 1 651.0,650.5 Z"/>
<ellipse class="f" cx="664.6" cy="647.2" rx="13.600000000000023" ry="6.3"/>
<ellipse class="k" cx="664.9" cy="647.3" rx="8.3" ry="3.8"/>
</g>
<g class="t">
<path d="M680.4,622.6 L764.2,618.1"/>
<path d="M678.1,652.9 L765.9,653.5"/>
</g>
<!-- 58_items11_15.svg -->
<g class="l">
<!-- 11 hex plug -->
<path d="M498.2,41 L500,35.5 L504,32.8 L508.5,33.5 L510,37 L509.5,46 L506.5,50.3 L502,50.5 L499,47.5 Z"/>
<path class="t" d="M504,32.8 L503,39.5 L502,50.5 M500,35.5 L503,39.5 L509.8,38.5"/>
<path d="M509.5,37 Q512,36 514.5,38 L519,41.5 Q522,44 521.5,47.5 Q520.5,50.5 517,50.5 L509.5,47"/>
<path class="k" d="M512,37 Q510.5,42 512,48 M515,38.5 Q513.5,43.5 515,49.5 M518,40.5 Q516.5,45 518,50"/>
<!-- 12 ring -->
<ellipse class="k" cx="528" cy="52.7" rx="4.6" ry="6.2" transform="rotate(-15 528 52.7)"/>
<ellipse class="t" cx="528.8" cy="53.2" rx="2.2" ry="3.6" transform="rotate(-15 528.8 53.2)"/>
<!-- 13 small cylinder -->
<path d="M535.5,54.5 L541.5,57.2 M534.5,60.8 L540.2,63.6"/>
<ellipse cx="535" cy="57.6" rx="1.8" ry="3.3" transform="rotate(-20 535 57.6)"/>
<ellipse class="k" cx="542.3" cy="60.5" rx="2.7" ry="3.8" transform="rotate(-20 542.3 60.5)"/>
<!-- 14 spring -->
<path class="k" d="M548.5,60.5 Q546.5,64 548,67.5 M551.5,61.5 Q549.5,65.5 551,69.5 M554.5,63 Q552.5,67 554,71 M557.5,64.5 Q555.5,68.5 557,72.5 M560.5,66 Q558.5,70 560,74"/>
<ellipse cx="564" cy="71.3" rx="2.6" ry="4" transform="rotate(-20 564 71.3)"/>
<path class="t" d="M548.5,60.5 L565,67.8 M548,67.5 L563,75"/>
<!-- 15 valve -->
<ellipse class="k" cx="572.5" cy="76.8" rx="4" ry="6.6" transform="rotate(-20 572.5 76.8)"/>
<path d="M574,70.5 L580.5,73.5 M571,83 L577.5,86"/>
<path class="k" d="M580,73 Q577,79 578.5,86 M583,75.5 Q580.5,81 582,87.5"/>
<path d="M583,75.5 L587.5,78 M582,87.5 L586,88.5"/>
<ellipse cx="587.3" cy="83.3" rx="3" ry="5.3" transform="rotate(-20 587.3 83.3)"/>
<ellipse class="t" cx="587.6" cy="83.6" rx="1.2" ry="2.2" transform="rotate(-20 587.6 83.6)"/>
<path class="b" d="M574,72 L578,74 L577,78 L573.5,76 Z"/>
</g>
<g class="t">
<path d="M516,38.3 L551,11.7"/>
<path d="M532.3,47 L571.4,21.9"/>
<path d="M543.2,54.8 L588.3,29.8"/>
<path d="M562.3,65.4 L607.5,40.6"/>
<path d="M588.3,79 L627.8,56.4"/>
</g>
<!-- 60_spring4.svg -->
<g class="l" transform="translate(0.8,0.8)">
<path class="b" d="M302.6,490 L302.6,506.5 A13.0,5.5 0 0 0 328.6,506.5 L328.6,490 Z"/>
<path class="f" d="M302.6,506.7 A13.0,5.2 0 0 0 328.6,506.7 L328.6,509.9 A13.0,6 0 0 1 302.6,509.9 Z"/>
<path class="f" d="M302.6,501.2 A13.0,5.2 0 0 0 328.6,501.2 L328.6,504.4 A13.0,6 0 0 1 302.6,504.4 Z"/>
<path class="f" d="M302.6,495.7 A13.0,5.2 0 0 0 328.6,495.7 L328.6,498.9 A13.0,6 0 0 1 302.6,498.9 Z"/>
<path class="f" d="M302.6,490.2 A13.0,5.2 0 0 0 328.6,490.2 L328.6,493.4 A13.0,6 0 0 1 302.6,493.4 Z"/>
<!-- top washer with notches -->
<path class="f" d="M296.5,482 Q297,475.5 306,472.8 L311,472 L312.5,474.8 L316.5,474.8 L318,472 Q328,473 332,478.5 Q333.5,483 332,486 L332.2,490 Q330,493.5 323,494.2 Q312,495.5 304,493 Q297.5,490.5 296.8,487 Z"/>
<path d="M297,483.5 Q303,490 314,490.3 L321.5,490 L321.8,486.5 L327.5,485.5 L332,486"/>
<path d="M321.5,490 L321.8,494.3 M327.5,485.5 L327.7,489 M296.5,483 L301,483.3"/>
<ellipse class="k" cx="314.5" cy="481.3" rx="8.3" ry="4.6"/>
<ellipse cx="314.8" cy="482" rx="5.3" ry="2.6"/>
</g>
<g class="t"><path d="M333.5,483.5 L403.8,482"/></g>
<!-- 70_bowl3.svg -->
<g class="l">
<ellipse cx="316.6" cy="552.5" rx="50.4" ry="30"/>
<ellipse cx="316.9" cy="552.8" rx="44.4" ry="24.8"/>
<path d="M266.2,552.5 L266.3,563 Q268,572 280,581 Q296,592 317,592.3 Q338,592 354,581 Q365,573 367,563 L367,552.5"/>
<path class="t" d="M273,556 Q276,570 296,576.5"/>
<!-- nub -->
<path d="M309.5,577 L310,573 Q311.5,569 315,568.8 Q319,569 320,573 L320.3,577.3"/>
<!-- body -->
<path d="M271.3,573 L272.3,670 Q273,676 278,682 L286,691 L308,708.5"/>
<path d="M361.3,574 L361.3,670 Q360.5,676 355,682 L345.5,691 L326.5,708.5"/>
<path class="t" d="M273.2,590 L273.8,668"/>
<path d="M286,691 Q300,698.5 316,698.8 Q332,698.5 345.5,691"/>
<path class="k" d="M308,708.5 Q308.5,712.8 314,714 Q320,714.6 324.5,713.2 Q326.5,711.5 326.5,708.5"/>
<path d="M308.5,709 Q317,712 326,709"/>
</g>
<g class="t"><path d="M367,563.8 L405,557"/></g>
<!-- 80_plug2.svg -->
<g class="l">
<path d="M312.5,732.5 L312.7,727 Q313,723.8 317,723.6 Q320.8,723.8 321.2,727 L321.3,732.5"/>
<ellipse class="t" cx="317" cy="730.5" rx="1.8" ry="1.6"/>
<path d="M309.5,736 Q309,733 312.5,732.5 L321.3,732.5 Q325,733 324.8,736 L324.8,743.5"/>
<path d="M309.5,736 L309.5,743.5"/>
<path class="t" d="M309.5,736.5 Q317,739 324.8,736.5 M309.5,739.5 Q317,742 324.8,739.5 M309.5,742.3 Q317,745 324.8,742.3"/>
<path d="M306.3,747 L309.5,743.5 L324.8,743.5 L328,747 L328,750 L324.5,752.8 L310,752.8 L306.3,750 Z"/>
<path class="t" d="M306.3,747 L310.5,749 L324,749 L328,747 M310.5,749 L310.3,752.5 M324,749 L324.3,752.5"/>
</g>
<g class="t"><path d="M326,737.5 L405,721"/></g>
<!-- 90_arrows.svg -->
<g class="l">
<!-- top bracket + arrow -->
<path d="M474.6,94 Q471.5,96.5 471.7,100 Q471.8,102 473,104 L513.9,165.6 Q515.5,168 520.9,167.4"/>
<path d="M491,134 L447.5,159.4"/>
<path class="b" stroke="none" d="M446,160.2 L455.5,151.3 L455.8,155.2 L459.3,157.2 Z"/>
<!-- middle bracket + arrow -->
<path d="M575.4,332.5 Q570.5,335 569.9,340 L569.8,415 Q570.3,419 575.1,422.3"/>
<path d="M569.8,376.7 L509,376.4"/>
<path class="b" stroke="none" d="M507,376.3 L522.8,372.8 L520.5,376.4 L522.8,380 Z"/>
<!-- bottom bracket + arrow -->
<path d="M625.1,599.2 L618.2,602.5 L612.1,651.2 L617.3,657.1"/>
<path d="M614.1,627.8 L563,602.4"/>
<path class="b" stroke="none" d="M561,601.4 L573.5,602.6 L570.7,605.2 L571,610.6 Z"/>
</g>
<!-- 95_labels.svg -->
<g opacity="0.999">
<text transform="translate(363.0,33.8) scale(0.74,1)">10</text>
<text transform="translate(359.2,90.2) scale(0.74,1)">9</text>
<text transform="translate(174.9,141.4) scale(0.74,1)">8</text>
<text transform="translate(480.5,241.0) scale(0.74,1)">8</text>
<text transform="translate(406.5,307.5) scale(0.74,1)">7</text>
<text transform="translate(407.5,332.5) scale(0.74,1)">6</text>
<text transform="translate(408.0,405.0) scale(0.74,1)">5</text>
<text transform="translate(408.0,490.0) scale(0.74,1)">4</text>
<text transform="translate(406.5,561.0) scale(0.74,1)">3</text>
<text transform="translate(413.0,726.0) scale(0.74,1)">2</text>
<text transform="translate(116.3,576.4) scale(0.74,1)">1</text>
<text transform="translate(551.5,14.0) scale(0.74,1)">11</text>
<text transform="translate(572.0,23.7) scale(0.74,1)">12</text>
<text transform="translate(589.5,30.5) scale(0.74,1)">13</text>
<text transform="translate(608.5,42.4) scale(0.74,1)">14</text>
<text transform="translate(629.5,59.0) scale(0.74,1)">15</text>
<text transform="translate(753.5,258.3) scale(0.74,1)">16</text>
<text transform="translate(766.5,309.5) scale(0.74,1)">17</text>
<text transform="translate(765.8,397.5) scale(0.74,1)">18</text>
<text transform="translate(763.3,462.0) scale(0.74,1)">17</text>
<text transform="translate(770.9,622.6) scale(0.74,1)">19</text>
<text transform="translate(770.9,658.4) scale(0.74,1)">20</text>
</g>
</svg>
</body></html>
